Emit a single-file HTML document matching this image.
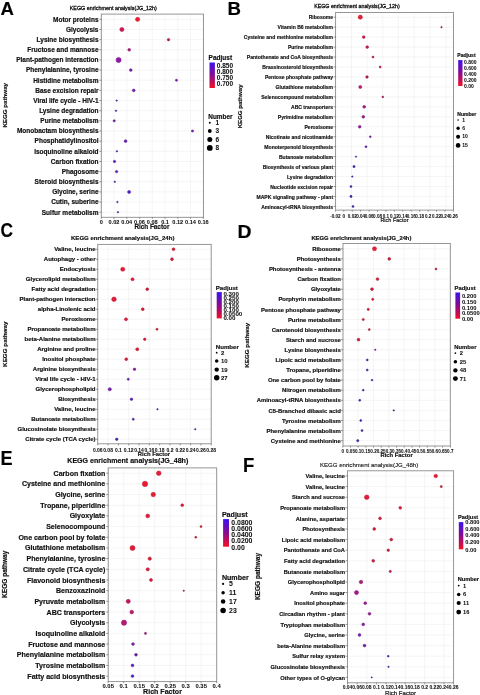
<!DOCTYPE html>
<html><head><meta charset="utf-8"><title>KEGG enrichment</title>
<style>html,body{margin:0;padding:0;background:#fff;width:480px;height:695px;overflow:hidden}
svg{display:block;will-change:transform;filter:blur(0.35px);font-family:"Liberation Sans",sans-serif} text{stroke:#111;stroke-width:0.18px} .ns text{stroke:none}</style></head>
<body><svg width="480" height="695" viewBox="0 0 480 695" font-family="Liberation Sans, sans-serif">
<rect width="480" height="695" fill="#fff"/>
<rect x="101.3" y="14.1" width="102.2" height="203.20000000000002" fill="#fff"/>
<line x1="101.3" y1="19.35" x2="203.5" y2="19.35" stroke="#eeeeee" stroke-width="0.6"/>
<line x1="101.3" y1="29.50" x2="203.5" y2="29.50" stroke="#eeeeee" stroke-width="0.6"/>
<line x1="101.3" y1="39.65" x2="203.5" y2="39.65" stroke="#eeeeee" stroke-width="0.6"/>
<line x1="101.3" y1="49.80" x2="203.5" y2="49.80" stroke="#eeeeee" stroke-width="0.6"/>
<line x1="101.3" y1="59.95" x2="203.5" y2="59.95" stroke="#eeeeee" stroke-width="0.6"/>
<line x1="101.3" y1="70.10" x2="203.5" y2="70.10" stroke="#eeeeee" stroke-width="0.6"/>
<line x1="101.3" y1="80.25" x2="203.5" y2="80.25" stroke="#eeeeee" stroke-width="0.6"/>
<line x1="101.3" y1="90.40" x2="203.5" y2="90.40" stroke="#eeeeee" stroke-width="0.6"/>
<line x1="101.3" y1="100.55" x2="203.5" y2="100.55" stroke="#eeeeee" stroke-width="0.6"/>
<line x1="101.3" y1="110.70" x2="203.5" y2="110.70" stroke="#eeeeee" stroke-width="0.6"/>
<line x1="101.3" y1="120.85" x2="203.5" y2="120.85" stroke="#eeeeee" stroke-width="0.6"/>
<line x1="101.3" y1="131.00" x2="203.5" y2="131.00" stroke="#eeeeee" stroke-width="0.6"/>
<line x1="101.3" y1="141.15" x2="203.5" y2="141.15" stroke="#eeeeee" stroke-width="0.6"/>
<line x1="101.3" y1="151.30" x2="203.5" y2="151.30" stroke="#eeeeee" stroke-width="0.6"/>
<line x1="101.3" y1="161.45" x2="203.5" y2="161.45" stroke="#eeeeee" stroke-width="0.6"/>
<line x1="101.3" y1="171.60" x2="203.5" y2="171.60" stroke="#eeeeee" stroke-width="0.6"/>
<line x1="101.3" y1="181.75" x2="203.5" y2="181.75" stroke="#eeeeee" stroke-width="0.6"/>
<line x1="101.3" y1="191.90" x2="203.5" y2="191.90" stroke="#eeeeee" stroke-width="0.6"/>
<line x1="101.3" y1="202.05" x2="203.5" y2="202.05" stroke="#eeeeee" stroke-width="0.6"/>
<line x1="101.3" y1="212.20" x2="203.5" y2="212.20" stroke="#eeeeee" stroke-width="0.6"/>
<line x1="101.30" y1="14.1" x2="101.30" y2="217.3" stroke="#eeeeee" stroke-width="0.6"/>
<line x1="114.05" y1="14.1" x2="114.05" y2="217.3" stroke="#eeeeee" stroke-width="0.6"/>
<line x1="126.80" y1="14.1" x2="126.80" y2="217.3" stroke="#eeeeee" stroke-width="0.6"/>
<line x1="139.55" y1="14.1" x2="139.55" y2="217.3" stroke="#eeeeee" stroke-width="0.6"/>
<line x1="152.30" y1="14.1" x2="152.30" y2="217.3" stroke="#eeeeee" stroke-width="0.6"/>
<line x1="165.05" y1="14.1" x2="165.05" y2="217.3" stroke="#eeeeee" stroke-width="0.6"/>
<line x1="177.80" y1="14.1" x2="177.80" y2="217.3" stroke="#eeeeee" stroke-width="0.6"/>
<line x1="190.55" y1="14.1" x2="190.55" y2="217.3" stroke="#eeeeee" stroke-width="0.6"/>
<line x1="203.30" y1="14.1" x2="203.30" y2="217.3" stroke="#eeeeee" stroke-width="0.6"/>
<rect x="101.3" y="14.1" width="102.2" height="203.20000000000002" fill="none" stroke="#8c8c8c" stroke-width="0.9"/>
<line x1="99.30" y1="19.35" x2="101.3" y2="19.35" stroke="#555" stroke-width="0.6"/>
<line x1="99.30" y1="29.50" x2="101.3" y2="29.50" stroke="#555" stroke-width="0.6"/>
<line x1="99.30" y1="39.65" x2="101.3" y2="39.65" stroke="#555" stroke-width="0.6"/>
<line x1="99.30" y1="49.80" x2="101.3" y2="49.80" stroke="#555" stroke-width="0.6"/>
<line x1="99.30" y1="59.95" x2="101.3" y2="59.95" stroke="#555" stroke-width="0.6"/>
<line x1="99.30" y1="70.10" x2="101.3" y2="70.10" stroke="#555" stroke-width="0.6"/>
<line x1="99.30" y1="80.25" x2="101.3" y2="80.25" stroke="#555" stroke-width="0.6"/>
<line x1="99.30" y1="90.40" x2="101.3" y2="90.40" stroke="#555" stroke-width="0.6"/>
<line x1="99.30" y1="100.55" x2="101.3" y2="100.55" stroke="#555" stroke-width="0.6"/>
<line x1="99.30" y1="110.70" x2="101.3" y2="110.70" stroke="#555" stroke-width="0.6"/>
<line x1="99.30" y1="120.85" x2="101.3" y2="120.85" stroke="#555" stroke-width="0.6"/>
<line x1="99.30" y1="131.00" x2="101.3" y2="131.00" stroke="#555" stroke-width="0.6"/>
<line x1="99.30" y1="141.15" x2="101.3" y2="141.15" stroke="#555" stroke-width="0.6"/>
<line x1="99.30" y1="151.30" x2="101.3" y2="151.30" stroke="#555" stroke-width="0.6"/>
<line x1="99.30" y1="161.45" x2="101.3" y2="161.45" stroke="#555" stroke-width="0.6"/>
<line x1="99.30" y1="171.60" x2="101.3" y2="171.60" stroke="#555" stroke-width="0.6"/>
<line x1="99.30" y1="181.75" x2="101.3" y2="181.75" stroke="#555" stroke-width="0.6"/>
<line x1="99.30" y1="191.90" x2="101.3" y2="191.90" stroke="#555" stroke-width="0.6"/>
<line x1="99.30" y1="202.05" x2="101.3" y2="202.05" stroke="#555" stroke-width="0.6"/>
<line x1="99.30" y1="212.20" x2="101.3" y2="212.20" stroke="#555" stroke-width="0.6"/>
<line x1="101.30" y1="217.3" x2="101.30" y2="218.9" stroke="#555" stroke-width="0.6"/>
<line x1="114.05" y1="217.3" x2="114.05" y2="218.9" stroke="#555" stroke-width="0.6"/>
<line x1="126.80" y1="217.3" x2="126.80" y2="218.9" stroke="#555" stroke-width="0.6"/>
<line x1="139.55" y1="217.3" x2="139.55" y2="218.9" stroke="#555" stroke-width="0.6"/>
<line x1="152.30" y1="217.3" x2="152.30" y2="218.9" stroke="#555" stroke-width="0.6"/>
<line x1="165.05" y1="217.3" x2="165.05" y2="218.9" stroke="#555" stroke-width="0.6"/>
<line x1="177.80" y1="217.3" x2="177.80" y2="218.9" stroke="#555" stroke-width="0.6"/>
<line x1="190.55" y1="217.3" x2="190.55" y2="218.9" stroke="#555" stroke-width="0.6"/>
<line x1="203.30" y1="217.3" x2="203.30" y2="218.9" stroke="#555" stroke-width="0.6"/>
<text x="98.50" y="21.68" font-size="6.5" font-weight="bold" text-anchor="end" fill="#111">Motor proteins</text>
<text x="98.50" y="31.83" font-size="6.5" font-weight="bold" text-anchor="end" fill="#111">Glycolysis</text>
<text x="98.50" y="41.98" font-size="6.5" font-weight="bold" text-anchor="end" fill="#111">Lysine biosynthesis</text>
<text x="98.50" y="52.13" font-size="6.5" font-weight="bold" text-anchor="end" fill="#111">Fructose and mannose</text>
<text x="98.50" y="62.28" font-size="6.5" font-weight="bold" text-anchor="end" fill="#111">Plant-pathogen interaction</text>
<text x="98.50" y="72.43" font-size="6.5" font-weight="bold" text-anchor="end" fill="#111">Phenylalanine, tyrosine</text>
<text x="98.50" y="82.58" font-size="6.5" font-weight="bold" text-anchor="end" fill="#111">Histidine metabolism</text>
<text x="98.50" y="92.73" font-size="6.5" font-weight="bold" text-anchor="end" fill="#111">Base excision repair</text>
<text x="98.50" y="102.88" font-size="6.5" font-weight="bold" text-anchor="end" fill="#111">Viral life cycle - HIV-1</text>
<text x="98.50" y="113.03" font-size="6.5" font-weight="bold" text-anchor="end" fill="#111">Lysine degradation</text>
<text x="98.50" y="123.18" font-size="6.5" font-weight="bold" text-anchor="end" fill="#111">Purine metabolism</text>
<text x="98.50" y="133.33" font-size="6.5" font-weight="bold" text-anchor="end" fill="#111">Monobactam biosynthesis</text>
<text x="98.50" y="143.48" font-size="6.5" font-weight="bold" text-anchor="end" fill="#111">Phosphatidylinositol</text>
<text x="98.50" y="153.63" font-size="6.5" font-weight="bold" text-anchor="end" fill="#111">Isoquinoline alkaloid</text>
<text x="98.50" y="163.78" font-size="6.5" font-weight="bold" text-anchor="end" fill="#111">Carbon fixation</text>
<text x="98.50" y="173.93" font-size="6.5" font-weight="bold" text-anchor="end" fill="#111">Phagosome</text>
<text x="98.50" y="184.08" font-size="6.5" font-weight="bold" text-anchor="end" fill="#111">Steroid biosynthesis</text>
<text x="98.50" y="194.23" font-size="6.5" font-weight="bold" text-anchor="end" fill="#111">Glycine, serine</text>
<text x="98.50" y="204.38" font-size="6.5" font-weight="bold" text-anchor="end" fill="#111">Cutin, suberine</text>
<text x="98.50" y="214.53" font-size="6.5" font-weight="bold" text-anchor="end" fill="#111">Sulfur metabolism</text>
<circle cx="137.60" cy="19.35" r="2.10" fill="#e81e32" stroke="#c5192a" stroke-width="0.5"/>
<circle cx="121.90" cy="29.50" r="2.10" fill="#cc1854" stroke="#ad1447" stroke-width="0.5"/>
<circle cx="168.50" cy="39.65" r="1.23" fill="#c01965" stroke="#770f3e" stroke-width="0.5"/>
<circle cx="129.20" cy="49.80" r="1.38" fill="#ae1a7d" stroke="#82135d" stroke-width="0.5"/>
<circle cx="118.60" cy="59.95" r="2.55" fill="#8e1ca6" stroke="#78178d" stroke-width="0.5"/>
<circle cx="130.80" cy="70.10" r="1.38" fill="#841dad" stroke="#631581" stroke-width="0.5"/>
<circle cx="176.50" cy="80.25" r="1.12" fill="#7b1eb4" stroke="#4c126f" stroke-width="0.5"/>
<circle cx="133.75" cy="90.40" r="1.38" fill="#761fb7" stroke="#581789" stroke-width="0.5"/>
<circle cx="116.70" cy="100.55" r="0.72" fill="#5422c4" stroke="#341579" stroke-width="0.5"/>
<circle cx="116.00" cy="110.70" r="0.82" fill="#5422c4" stroke="#341579" stroke-width="0.5"/>
<circle cx="114.20" cy="120.85" r="1.12" fill="#761fb7" stroke="#491371" stroke-width="0.5"/>
<circle cx="192.50" cy="131.00" r="1.12" fill="#761fb7" stroke="#491371" stroke-width="0.5"/>
<circle cx="125.60" cy="141.15" r="1.38" fill="#6a20c0" stroke="#4f1890" stroke-width="0.5"/>
<circle cx="116.90" cy="151.30" r="0.78" fill="#5422c4" stroke="#341579" stroke-width="0.5"/>
<circle cx="114.50" cy="161.45" r="1.18" fill="#6321c5" stroke="#3d147a" stroke-width="0.5"/>
<circle cx="116.60" cy="171.60" r="1.18" fill="#6321c5" stroke="#3d147a" stroke-width="0.5"/>
<circle cx="114.75" cy="181.75" r="0.78" fill="#5422c4" stroke="#341579" stroke-width="0.5"/>
<circle cx="129.10" cy="191.90" r="1.52" fill="#5422c4" stroke="#3f1993" stroke-width="0.5"/>
<circle cx="117.40" cy="202.05" r="0.78" fill="#5422c4" stroke="#341579" stroke-width="0.5"/>
<circle cx="117.90" cy="212.20" r="0.78" fill="#5422c4" stroke="#341579" stroke-width="0.5"/>
<text x="101.30" y="223.80" font-size="5.6" font-weight="bold" text-anchor="middle" style="stroke-width:0.05px" fill="#111">0</text>
<text x="114.05" y="223.80" font-size="5.6" font-weight="bold" text-anchor="middle" style="stroke-width:0.05px" fill="#111">0.02</text>
<text x="126.80" y="223.80" font-size="5.6" font-weight="bold" text-anchor="middle" style="stroke-width:0.05px" fill="#111">0.04</text>
<text x="139.55" y="223.80" font-size="5.6" font-weight="bold" text-anchor="middle" style="stroke-width:0.05px" fill="#111">0.06</text>
<text x="152.30" y="223.80" font-size="5.6" font-weight="bold" text-anchor="middle" style="stroke-width:0.05px" fill="#111">0.08</text>
<text x="165.05" y="223.80" font-size="5.6" font-weight="bold" text-anchor="middle" style="stroke-width:0.05px" fill="#111">0.1</text>
<text x="177.80" y="223.80" font-size="5.6" font-weight="bold" text-anchor="middle" style="stroke-width:0.05px" fill="#111">0.12</text>
<text x="190.55" y="223.80" font-size="5.6" font-weight="bold" text-anchor="middle" style="stroke-width:0.05px" fill="#111">0.14</text>
<text x="203.30" y="223.80" font-size="5.6" font-weight="bold" text-anchor="middle" style="stroke-width:0.05px" fill="#111">0.16</text>
<text x="69.75" y="10.30" font-size="6.0" text-anchor="start" textLength="87.1" lengthAdjust="spacingAndGlyphs" style="stroke-width:0.32px" fill="#111">KEGG enrichment analysis(JG_12h)</text>
<text x="134.40" y="229.20" font-size="6.3" font-weight="bold" text-anchor="start" textLength="35" lengthAdjust="spacingAndGlyphs" fill="#111">Rich Factor</text>
<text transform="translate(6.90,105.30) rotate(-90)" font-size="6.2" font-weight="bold" text-anchor="middle" textLength="44.6" lengthAdjust="spacingAndGlyphs" fill="#111">KEGG pathway</text>
<text x="208.60" y="60.13" font-size="6.5" font-weight="bold" text-anchor="start" fill="#111">Padjust</text>
<defs><linearGradient id="gA" x1="0" y1="0" x2="0" y2="1"><stop offset="0" stop-color="#3c12ee"/><stop offset="0.5" stop-color="#8a0a90"/><stop offset="1" stop-color="#f50f22"/></linearGradient></defs>
<rect x="209.5" y="62.5" width="5.40" height="25.50" fill="url(#gA)"/>
<text x="216.80" y="68.33" font-size="6.5" font-weight="bold" text-anchor="start" style="stroke-width:0.05px" fill="#111">0.850</text>
<text x="216.80" y="73.93" font-size="6.5" font-weight="bold" text-anchor="start" style="stroke-width:0.05px" fill="#111">0.800</text>
<text x="216.80" y="79.93" font-size="6.5" font-weight="bold" text-anchor="start" style="stroke-width:0.05px" fill="#111">0.750</text>
<text x="216.80" y="85.63" font-size="6.5" font-weight="bold" text-anchor="start" style="stroke-width:0.05px" fill="#111">0.700</text>
<text x="208.30" y="118.99" font-size="6.4" font-weight="bold" text-anchor="start" fill="#111">Number</text>
<circle cx="209.8" cy="122.75" r="0.97" fill="#000"/>
<text x="215.40" y="125.08" font-size="6.5" font-weight="bold" text-anchor="start" style="stroke-width:0.05px" fill="#111">1</text>
<circle cx="209.8" cy="131" r="1.92" fill="#000"/>
<text x="215.40" y="133.33" font-size="6.5" font-weight="bold" text-anchor="start" style="stroke-width:0.05px" fill="#111">3</text>
<circle cx="209.8" cy="139.6" r="2.50" fill="#000"/>
<text x="215.40" y="141.93" font-size="6.5" font-weight="bold" text-anchor="start" style="stroke-width:0.05px" fill="#111">6</text>
<circle cx="209.8" cy="147.9" r="2.90" fill="#000"/>
<text x="215.40" y="150.23" font-size="6.5" font-weight="bold" text-anchor="start" style="stroke-width:0.05px" fill="#111">8</text>
<rect x="335.6" y="12.5" width="117.89999999999998" height="197.6" fill="#fff"/>
<line x1="335.6" y1="17.20" x2="453.5" y2="17.20" stroke="#eeeeee" stroke-width="0.6"/>
<line x1="335.6" y1="27.16" x2="453.5" y2="27.16" stroke="#eeeeee" stroke-width="0.6"/>
<line x1="335.6" y1="37.12" x2="453.5" y2="37.12" stroke="#eeeeee" stroke-width="0.6"/>
<line x1="335.6" y1="47.08" x2="453.5" y2="47.08" stroke="#eeeeee" stroke-width="0.6"/>
<line x1="335.6" y1="57.04" x2="453.5" y2="57.04" stroke="#eeeeee" stroke-width="0.6"/>
<line x1="335.6" y1="67.00" x2="453.5" y2="67.00" stroke="#eeeeee" stroke-width="0.6"/>
<line x1="335.6" y1="76.96" x2="453.5" y2="76.96" stroke="#eeeeee" stroke-width="0.6"/>
<line x1="335.6" y1="86.92" x2="453.5" y2="86.92" stroke="#eeeeee" stroke-width="0.6"/>
<line x1="335.6" y1="96.88" x2="453.5" y2="96.88" stroke="#eeeeee" stroke-width="0.6"/>
<line x1="335.6" y1="106.84" x2="453.5" y2="106.84" stroke="#eeeeee" stroke-width="0.6"/>
<line x1="335.6" y1="116.80" x2="453.5" y2="116.80" stroke="#eeeeee" stroke-width="0.6"/>
<line x1="335.6" y1="126.76" x2="453.5" y2="126.76" stroke="#eeeeee" stroke-width="0.6"/>
<line x1="335.6" y1="136.72" x2="453.5" y2="136.72" stroke="#eeeeee" stroke-width="0.6"/>
<line x1="335.6" y1="146.68" x2="453.5" y2="146.68" stroke="#eeeeee" stroke-width="0.6"/>
<line x1="335.6" y1="156.64" x2="453.5" y2="156.64" stroke="#eeeeee" stroke-width="0.6"/>
<line x1="335.6" y1="166.60" x2="453.5" y2="166.60" stroke="#eeeeee" stroke-width="0.6"/>
<line x1="335.6" y1="176.56" x2="453.5" y2="176.56" stroke="#eeeeee" stroke-width="0.6"/>
<line x1="335.6" y1="186.52" x2="453.5" y2="186.52" stroke="#eeeeee" stroke-width="0.6"/>
<line x1="335.6" y1="196.48" x2="453.5" y2="196.48" stroke="#eeeeee" stroke-width="0.6"/>
<line x1="335.6" y1="206.44" x2="453.5" y2="206.44" stroke="#eeeeee" stroke-width="0.6"/>
<line x1="351.50" y1="12.5" x2="351.50" y2="210.1" stroke="#eeeeee" stroke-width="0.6"/>
<line x1="367.00" y1="12.5" x2="367.00" y2="210.1" stroke="#eeeeee" stroke-width="0.6"/>
<line x1="382.70" y1="12.5" x2="382.70" y2="210.1" stroke="#eeeeee" stroke-width="0.6"/>
<line x1="398.30" y1="12.5" x2="398.30" y2="210.1" stroke="#eeeeee" stroke-width="0.6"/>
<line x1="414.20" y1="12.5" x2="414.20" y2="210.1" stroke="#eeeeee" stroke-width="0.6"/>
<line x1="430.00" y1="12.5" x2="430.00" y2="210.1" stroke="#eeeeee" stroke-width="0.6"/>
<line x1="446.00" y1="12.5" x2="446.00" y2="210.1" stroke="#eeeeee" stroke-width="0.6"/>
<rect x="335.6" y="12.5" width="117.89999999999998" height="197.6" fill="none" stroke="#8c8c8c" stroke-width="0.9"/>
<line x1="333.60" y1="17.20" x2="335.6" y2="17.20" stroke="#555" stroke-width="0.6"/>
<line x1="333.60" y1="27.16" x2="335.6" y2="27.16" stroke="#555" stroke-width="0.6"/>
<line x1="333.60" y1="37.12" x2="335.6" y2="37.12" stroke="#555" stroke-width="0.6"/>
<line x1="333.60" y1="47.08" x2="335.6" y2="47.08" stroke="#555" stroke-width="0.6"/>
<line x1="333.60" y1="57.04" x2="335.6" y2="57.04" stroke="#555" stroke-width="0.6"/>
<line x1="333.60" y1="67.00" x2="335.6" y2="67.00" stroke="#555" stroke-width="0.6"/>
<line x1="333.60" y1="76.96" x2="335.6" y2="76.96" stroke="#555" stroke-width="0.6"/>
<line x1="333.60" y1="86.92" x2="335.6" y2="86.92" stroke="#555" stroke-width="0.6"/>
<line x1="333.60" y1="96.88" x2="335.6" y2="96.88" stroke="#555" stroke-width="0.6"/>
<line x1="333.60" y1="106.84" x2="335.6" y2="106.84" stroke="#555" stroke-width="0.6"/>
<line x1="333.60" y1="116.80" x2="335.6" y2="116.80" stroke="#555" stroke-width="0.6"/>
<line x1="333.60" y1="126.76" x2="335.6" y2="126.76" stroke="#555" stroke-width="0.6"/>
<line x1="333.60" y1="136.72" x2="335.6" y2="136.72" stroke="#555" stroke-width="0.6"/>
<line x1="333.60" y1="146.68" x2="335.6" y2="146.68" stroke="#555" stroke-width="0.6"/>
<line x1="333.60" y1="156.64" x2="335.6" y2="156.64" stroke="#555" stroke-width="0.6"/>
<line x1="333.60" y1="166.60" x2="335.6" y2="166.60" stroke="#555" stroke-width="0.6"/>
<line x1="333.60" y1="176.56" x2="335.6" y2="176.56" stroke="#555" stroke-width="0.6"/>
<line x1="333.60" y1="186.52" x2="335.6" y2="186.52" stroke="#555" stroke-width="0.6"/>
<line x1="333.60" y1="196.48" x2="335.6" y2="196.48" stroke="#555" stroke-width="0.6"/>
<line x1="333.60" y1="206.44" x2="335.6" y2="206.44" stroke="#555" stroke-width="0.6"/>
<line x1="335.40" y1="210.1" x2="335.40" y2="211.7" stroke="#555" stroke-width="0.6"/>
<line x1="343.83" y1="210.1" x2="343.83" y2="211.7" stroke="#555" stroke-width="0.6"/>
<line x1="352.26" y1="210.1" x2="352.26" y2="211.7" stroke="#555" stroke-width="0.6"/>
<line x1="360.69" y1="210.1" x2="360.69" y2="211.7" stroke="#555" stroke-width="0.6"/>
<line x1="369.11" y1="210.1" x2="369.11" y2="211.7" stroke="#555" stroke-width="0.6"/>
<line x1="377.54" y1="210.1" x2="377.54" y2="211.7" stroke="#555" stroke-width="0.6"/>
<line x1="385.97" y1="210.1" x2="385.97" y2="211.7" stroke="#555" stroke-width="0.6"/>
<line x1="394.40" y1="210.1" x2="394.40" y2="211.7" stroke="#555" stroke-width="0.6"/>
<line x1="402.83" y1="210.1" x2="402.83" y2="211.7" stroke="#555" stroke-width="0.6"/>
<line x1="411.26" y1="210.1" x2="411.26" y2="211.7" stroke="#555" stroke-width="0.6"/>
<line x1="419.69" y1="210.1" x2="419.69" y2="211.7" stroke="#555" stroke-width="0.6"/>
<line x1="428.11" y1="210.1" x2="428.11" y2="211.7" stroke="#555" stroke-width="0.6"/>
<line x1="436.54" y1="210.1" x2="436.54" y2="211.7" stroke="#555" stroke-width="0.6"/>
<line x1="444.97" y1="210.1" x2="444.97" y2="211.7" stroke="#555" stroke-width="0.6"/>
<line x1="453.40" y1="210.1" x2="453.40" y2="211.7" stroke="#555" stroke-width="0.6"/>
<g transform="translate(333.10,19.26) scale(0.88,1)"><text x="0" y="0" font-size="5.75" font-weight="bold" text-anchor="end" fill="#111">Ribosome</text></g>
<g transform="translate(333.10,29.22) scale(0.88,1)"><text x="0" y="0" font-size="5.75" font-weight="bold" text-anchor="end" fill="#111">Vitamin B6 metabolism</text></g>
<g transform="translate(333.10,39.18) scale(0.88,1)"><text x="0" y="0" font-size="5.75" font-weight="bold" text-anchor="end" fill="#111">Cysteine and methionine metabolism</text></g>
<g transform="translate(333.10,49.14) scale(0.88,1)"><text x="0" y="0" font-size="5.75" font-weight="bold" text-anchor="end" fill="#111">Purine metabolism</text></g>
<g transform="translate(333.10,59.10) scale(0.88,1)"><text x="0" y="0" font-size="5.75" font-weight="bold" text-anchor="end" fill="#111">Pantothenate and CoA biosynthesis</text></g>
<g transform="translate(333.10,69.06) scale(0.88,1)"><text x="0" y="0" font-size="5.75" font-weight="bold" text-anchor="end" fill="#111">Brassinosteroid biosynthesis</text></g>
<g transform="translate(333.10,79.02) scale(0.88,1)"><text x="0" y="0" font-size="5.75" font-weight="bold" text-anchor="end" fill="#111">Pentose phosphate pathway</text></g>
<g transform="translate(333.10,88.98) scale(0.88,1)"><text x="0" y="0" font-size="5.75" font-weight="bold" text-anchor="end" fill="#111">Glutathione metabolism</text></g>
<g transform="translate(333.10,98.94) scale(0.88,1)"><text x="0" y="0" font-size="5.75" font-weight="bold" text-anchor="end" fill="#111">Selenocompound metabolism</text></g>
<g transform="translate(333.10,108.90) scale(0.88,1)"><text x="0" y="0" font-size="5.75" font-weight="bold" text-anchor="end" fill="#111">ABC transporters</text></g>
<g transform="translate(333.10,118.86) scale(0.88,1)"><text x="0" y="0" font-size="5.75" font-weight="bold" text-anchor="end" fill="#111">Pyrimidine metabolism</text></g>
<g transform="translate(333.10,128.82) scale(0.88,1)"><text x="0" y="0" font-size="5.75" font-weight="bold" text-anchor="end" fill="#111">Peroxisome</text></g>
<g transform="translate(333.10,138.78) scale(0.88,1)"><text x="0" y="0" font-size="5.75" font-weight="bold" text-anchor="end" fill="#111">Nicotinate and nicotinamide</text></g>
<g transform="translate(333.10,148.74) scale(0.88,1)"><text x="0" y="0" font-size="5.75" font-weight="bold" text-anchor="end" fill="#111">Monoterpenoid biosynthesis</text></g>
<g transform="translate(333.10,158.70) scale(0.88,1)"><text x="0" y="0" font-size="5.75" font-weight="bold" text-anchor="end" fill="#111">Butanoate metabolism</text></g>
<g transform="translate(333.10,168.66) scale(0.88,1)"><text x="0" y="0" font-size="5.75" font-weight="bold" text-anchor="end" fill="#111">Biosynthesis of various plant</text></g>
<g transform="translate(333.10,178.62) scale(0.88,1)"><text x="0" y="0" font-size="5.75" font-weight="bold" text-anchor="end" fill="#111">Lysine degradation</text></g>
<g transform="translate(333.10,188.58) scale(0.88,1)"><text x="0" y="0" font-size="5.75" font-weight="bold" text-anchor="end" fill="#111">Nucleotide excision repair</text></g>
<g transform="translate(333.10,198.54) scale(0.88,1)"><text x="0" y="0" font-size="5.75" font-weight="bold" text-anchor="end" fill="#111">MAPK signaling pathway - plant</text></g>
<g transform="translate(333.10,208.50) scale(0.88,1)"><text x="0" y="0" font-size="5.75" font-weight="bold" text-anchor="end" fill="#111">Aminoacyl-tRNA biosynthesis</text></g>
<circle cx="360.30" cy="17.20" r="2.10" fill="#e81e32" stroke="#c5192a" stroke-width="0.5"/>
<circle cx="441.50" cy="27.16" r="0.78" fill="#de1b3d" stroke="#891025" stroke-width="0.5"/>
<circle cx="363.70" cy="37.12" r="1.38" fill="#d41848" stroke="#9f1236" stroke-width="0.5"/>
<circle cx="367.20" cy="47.08" r="1.38" fill="#cc1854" stroke="#99123f" stroke-width="0.5"/>
<circle cx="373.00" cy="57.04" r="0.98" fill="#cc1854" stroke="#7e0e34" stroke-width="0.5"/>
<circle cx="380.20" cy="67.00" r="0.98" fill="#cc1854" stroke="#7e0e34" stroke-width="0.5"/>
<circle cx="367.00" cy="76.96" r="1.28" fill="#c31960" stroke="#780f3b" stroke-width="0.5"/>
<circle cx="360.30" cy="86.92" r="1.52" fill="#bb1a6c" stroke="#8c1351" stroke-width="0.5"/>
<circle cx="382.80" cy="96.88" r="0.88" fill="#bb1a6c" stroke="#731042" stroke-width="0.5"/>
<circle cx="364.20" cy="106.84" r="1.38" fill="#a91a84" stroke="#681051" stroke-width="0.5"/>
<circle cx="363.30" cy="116.80" r="1.38" fill="#a01b8f" stroke="#631058" stroke-width="0.5"/>
<circle cx="359.70" cy="126.76" r="1.38" fill="#971c9b" stroke="#711574" stroke-width="0.5"/>
<circle cx="370.30" cy="136.72" r="0.88" fill="#821eae" stroke="#50126b" stroke-width="0.5"/>
<circle cx="366.00" cy="146.68" r="0.98" fill="#6a20c0" stroke="#411377" stroke-width="0.5"/>
<circle cx="356.00" cy="156.64" r="0.72" fill="#5422c4" stroke="#341579" stroke-width="0.5"/>
<circle cx="354.00" cy="166.60" r="1.12" fill="#4b23c0" stroke="#2e1577" stroke-width="0.5"/>
<circle cx="352.30" cy="176.56" r="0.72" fill="#4b23c0" stroke="#2e1577" stroke-width="0.5"/>
<circle cx="351.00" cy="186.52" r="0.98" fill="#4224bc" stroke="#281674" stroke-width="0.5"/>
<circle cx="351.00" cy="196.48" r="1.12" fill="#4224bc" stroke="#281674" stroke-width="0.5"/>
<circle cx="353.00" cy="206.44" r="0.98" fill="#4224bc" stroke="#281674" stroke-width="0.5"/>
<g transform="translate(335.40,217.60) scale(0.87,1)"><text x="0" y="0" font-size="5.3" text-anchor="middle" font-weight="bold" fill="#111" style="stroke-width:0.05px">-0.02</text></g>
<g transform="translate(343.83,217.60) scale(0.87,1)"><text x="0" y="0" font-size="5.3" text-anchor="middle" font-weight="bold" fill="#111" style="stroke-width:0.05px">0</text></g>
<g transform="translate(352.26,217.60) scale(0.87,1)"><text x="0" y="0" font-size="5.3" text-anchor="middle" font-weight="bold" fill="#111" style="stroke-width:0.05px">0.02</text></g>
<g transform="translate(360.69,217.60) scale(0.87,1)"><text x="0" y="0" font-size="5.3" text-anchor="middle" font-weight="bold" fill="#111" style="stroke-width:0.05px">0.04</text></g>
<g transform="translate(369.11,217.60) scale(0.87,1)"><text x="0" y="0" font-size="5.3" text-anchor="middle" font-weight="bold" fill="#111" style="stroke-width:0.05px">0.06</text></g>
<g transform="translate(377.54,217.60) scale(0.87,1)"><text x="0" y="0" font-size="5.3" text-anchor="middle" font-weight="bold" fill="#111" style="stroke-width:0.05px">0.08</text></g>
<g transform="translate(385.97,217.60) scale(0.87,1)"><text x="0" y="0" font-size="5.3" text-anchor="middle" font-weight="bold" fill="#111" style="stroke-width:0.05px">0.1</text></g>
<g transform="translate(394.40,217.60) scale(0.87,1)"><text x="0" y="0" font-size="5.3" text-anchor="middle" font-weight="bold" fill="#111" style="stroke-width:0.05px">0.12</text></g>
<g transform="translate(402.83,217.60) scale(0.87,1)"><text x="0" y="0" font-size="5.3" text-anchor="middle" font-weight="bold" fill="#111" style="stroke-width:0.05px">0.14</text></g>
<g transform="translate(411.26,217.60) scale(0.87,1)"><text x="0" y="0" font-size="5.3" text-anchor="middle" font-weight="bold" fill="#111" style="stroke-width:0.05px">0.16</text></g>
<g transform="translate(419.69,217.60) scale(0.87,1)"><text x="0" y="0" font-size="5.3" text-anchor="middle" font-weight="bold" fill="#111" style="stroke-width:0.05px">0.18</text></g>
<g transform="translate(428.11,217.60) scale(0.87,1)"><text x="0" y="0" font-size="5.3" text-anchor="middle" font-weight="bold" fill="#111" style="stroke-width:0.05px">0.2</text></g>
<g transform="translate(436.54,217.60) scale(0.87,1)"><text x="0" y="0" font-size="5.3" text-anchor="middle" font-weight="bold" fill="#111" style="stroke-width:0.05px">0.22</text></g>
<g transform="translate(444.97,217.60) scale(0.87,1)"><text x="0" y="0" font-size="5.3" text-anchor="middle" font-weight="bold" fill="#111" style="stroke-width:0.05px">0.24</text></g>
<g transform="translate(453.40,217.60) scale(0.87,1)"><text x="0" y="0" font-size="5.3" text-anchor="middle" font-weight="bold" fill="#111" style="stroke-width:0.05px">0.26</text></g>
<text x="314.20" y="8.30" font-size="5.9" text-anchor="start" textLength="85.5" lengthAdjust="spacingAndGlyphs" style="stroke-width:0.32px" fill="#111">KEGG enrichment analysis(JG_12h)</text>
<text x="380.40" y="221.90" font-size="5.5" text-anchor="start" textLength="28.1" lengthAdjust="spacingAndGlyphs" fill="#111">Rich Factor</text>
<text transform="translate(242.20,106.40) rotate(-90)" font-size="6.2" font-weight="bold" text-anchor="middle" textLength="43.8" lengthAdjust="spacingAndGlyphs" fill="#111">KEGG pathway</text>
<text x="457.30" y="57.42" font-size="5.07" font-weight="bold" text-anchor="start" fill="#111">Padjust</text>
<defs><linearGradient id="gB" x1="0" y1="0" x2="0" y2="1"><stop offset="0" stop-color="#3c12ee"/><stop offset="0.5" stop-color="#8a0a90"/><stop offset="1" stop-color="#f50f22"/></linearGradient></defs>
<rect x="458.2" y="60.1" width="4.30" height="25.90" fill="url(#gB)"/>
<text x="464.00" y="64.29" font-size="5.0" font-weight="bold" text-anchor="start" style="stroke-width:0.05px" fill="#111">0.800</text>
<text x="464.00" y="70.49" font-size="5.0" font-weight="bold" text-anchor="start" style="stroke-width:0.05px" fill="#111">0.600</text>
<text x="464.00" y="76.39" font-size="5.0" font-weight="bold" text-anchor="start" style="stroke-width:0.05px" fill="#111">0.400</text>
<text x="464.00" y="82.09" font-size="5.0" font-weight="bold" text-anchor="start" style="stroke-width:0.05px" fill="#111">0.200</text>
<text x="464.00" y="87.59" font-size="5.0" font-weight="bold" text-anchor="start" style="stroke-width:0.05px" fill="#111">0.00</text>
<text x="457.30" y="116.30" font-size="5.03" font-weight="bold" text-anchor="start" fill="#111">Number</text>
<circle cx="458.1" cy="120" r="0.78" fill="#000"/>
<text x="462.30" y="121.79" font-size="5.0" font-weight="bold" text-anchor="start" style="stroke-width:0.05px" fill="#111">1</text>
<circle cx="458.1" cy="128.3" r="1.68" fill="#000"/>
<text x="462.30" y="130.09" font-size="5.0" font-weight="bold" text-anchor="start" style="stroke-width:0.05px" fill="#111">6</text>
<circle cx="458.1" cy="136.7" r="2.02" fill="#000"/>
<text x="462.30" y="138.49" font-size="5.0" font-weight="bold" text-anchor="start" style="stroke-width:0.05px" fill="#111">10</text>
<circle cx="458.1" cy="145.4" r="2.30" fill="#000"/>
<text x="462.30" y="147.19" font-size="5.0" font-weight="bold" text-anchor="start" style="stroke-width:0.05px" fill="#111">15</text>
<rect x="97.75" y="244.4" width="113.44999999999999" height="199.4" fill="#fff"/>
<line x1="97.75" y1="249.25" x2="211.2" y2="249.25" stroke="#eeeeee" stroke-width="0.6"/>
<line x1="97.75" y1="259.25" x2="211.2" y2="259.25" stroke="#eeeeee" stroke-width="0.6"/>
<line x1="97.75" y1="269.25" x2="211.2" y2="269.25" stroke="#eeeeee" stroke-width="0.6"/>
<line x1="97.75" y1="279.25" x2="211.2" y2="279.25" stroke="#eeeeee" stroke-width="0.6"/>
<line x1="97.75" y1="289.25" x2="211.2" y2="289.25" stroke="#eeeeee" stroke-width="0.6"/>
<line x1="97.75" y1="299.25" x2="211.2" y2="299.25" stroke="#eeeeee" stroke-width="0.6"/>
<line x1="97.75" y1="309.25" x2="211.2" y2="309.25" stroke="#eeeeee" stroke-width="0.6"/>
<line x1="97.75" y1="319.25" x2="211.2" y2="319.25" stroke="#eeeeee" stroke-width="0.6"/>
<line x1="97.75" y1="329.25" x2="211.2" y2="329.25" stroke="#eeeeee" stroke-width="0.6"/>
<line x1="97.75" y1="339.25" x2="211.2" y2="339.25" stroke="#eeeeee" stroke-width="0.6"/>
<line x1="97.75" y1="349.25" x2="211.2" y2="349.25" stroke="#eeeeee" stroke-width="0.6"/>
<line x1="97.75" y1="359.25" x2="211.2" y2="359.25" stroke="#eeeeee" stroke-width="0.6"/>
<line x1="97.75" y1="369.25" x2="211.2" y2="369.25" stroke="#eeeeee" stroke-width="0.6"/>
<line x1="97.75" y1="379.25" x2="211.2" y2="379.25" stroke="#eeeeee" stroke-width="0.6"/>
<line x1="97.75" y1="389.25" x2="211.2" y2="389.25" stroke="#eeeeee" stroke-width="0.6"/>
<line x1="97.75" y1="399.25" x2="211.2" y2="399.25" stroke="#eeeeee" stroke-width="0.6"/>
<line x1="97.75" y1="409.25" x2="211.2" y2="409.25" stroke="#eeeeee" stroke-width="0.6"/>
<line x1="97.75" y1="419.25" x2="211.2" y2="419.25" stroke="#eeeeee" stroke-width="0.6"/>
<line x1="97.75" y1="429.25" x2="211.2" y2="429.25" stroke="#eeeeee" stroke-width="0.6"/>
<line x1="97.75" y1="439.25" x2="211.2" y2="439.25" stroke="#eeeeee" stroke-width="0.6"/>
<line x1="108.06" y1="244.4" x2="108.06" y2="443.8" stroke="#eeeeee" stroke-width="0.6"/>
<line x1="128.69" y1="244.4" x2="128.69" y2="443.8" stroke="#eeeeee" stroke-width="0.6"/>
<line x1="149.32" y1="244.4" x2="149.32" y2="443.8" stroke="#eeeeee" stroke-width="0.6"/>
<line x1="169.95" y1="244.4" x2="169.95" y2="443.8" stroke="#eeeeee" stroke-width="0.6"/>
<line x1="190.57" y1="244.4" x2="190.57" y2="443.8" stroke="#eeeeee" stroke-width="0.6"/>
<line x1="211.20" y1="244.4" x2="211.20" y2="443.8" stroke="#eeeeee" stroke-width="0.6"/>
<rect x="97.75" y="244.4" width="113.44999999999999" height="199.4" fill="none" stroke="#8c8c8c" stroke-width="0.9"/>
<line x1="95.75" y1="249.25" x2="97.75" y2="249.25" stroke="#555" stroke-width="0.6"/>
<line x1="95.75" y1="259.25" x2="97.75" y2="259.25" stroke="#555" stroke-width="0.6"/>
<line x1="95.75" y1="269.25" x2="97.75" y2="269.25" stroke="#555" stroke-width="0.6"/>
<line x1="95.75" y1="279.25" x2="97.75" y2="279.25" stroke="#555" stroke-width="0.6"/>
<line x1="95.75" y1="289.25" x2="97.75" y2="289.25" stroke="#555" stroke-width="0.6"/>
<line x1="95.75" y1="299.25" x2="97.75" y2="299.25" stroke="#555" stroke-width="0.6"/>
<line x1="95.75" y1="309.25" x2="97.75" y2="309.25" stroke="#555" stroke-width="0.6"/>
<line x1="95.75" y1="319.25" x2="97.75" y2="319.25" stroke="#555" stroke-width="0.6"/>
<line x1="95.75" y1="329.25" x2="97.75" y2="329.25" stroke="#555" stroke-width="0.6"/>
<line x1="95.75" y1="339.25" x2="97.75" y2="339.25" stroke="#555" stroke-width="0.6"/>
<line x1="95.75" y1="349.25" x2="97.75" y2="349.25" stroke="#555" stroke-width="0.6"/>
<line x1="95.75" y1="359.25" x2="97.75" y2="359.25" stroke="#555" stroke-width="0.6"/>
<line x1="95.75" y1="369.25" x2="97.75" y2="369.25" stroke="#555" stroke-width="0.6"/>
<line x1="95.75" y1="379.25" x2="97.75" y2="379.25" stroke="#555" stroke-width="0.6"/>
<line x1="95.75" y1="389.25" x2="97.75" y2="389.25" stroke="#555" stroke-width="0.6"/>
<line x1="95.75" y1="399.25" x2="97.75" y2="399.25" stroke="#555" stroke-width="0.6"/>
<line x1="95.75" y1="409.25" x2="97.75" y2="409.25" stroke="#555" stroke-width="0.6"/>
<line x1="95.75" y1="419.25" x2="97.75" y2="419.25" stroke="#555" stroke-width="0.6"/>
<line x1="95.75" y1="429.25" x2="97.75" y2="429.25" stroke="#555" stroke-width="0.6"/>
<line x1="95.75" y1="439.25" x2="97.75" y2="439.25" stroke="#555" stroke-width="0.6"/>
<line x1="97.75" y1="443.8" x2="97.75" y2="445.40000000000003" stroke="#555" stroke-width="0.6"/>
<line x1="108.06" y1="443.8" x2="108.06" y2="445.40000000000003" stroke="#555" stroke-width="0.6"/>
<line x1="118.38" y1="443.8" x2="118.38" y2="445.40000000000003" stroke="#555" stroke-width="0.6"/>
<line x1="128.69" y1="443.8" x2="128.69" y2="445.40000000000003" stroke="#555" stroke-width="0.6"/>
<line x1="139.00" y1="443.8" x2="139.00" y2="445.40000000000003" stroke="#555" stroke-width="0.6"/>
<line x1="149.32" y1="443.8" x2="149.32" y2="445.40000000000003" stroke="#555" stroke-width="0.6"/>
<line x1="159.63" y1="443.8" x2="159.63" y2="445.40000000000003" stroke="#555" stroke-width="0.6"/>
<line x1="169.95" y1="443.8" x2="169.95" y2="445.40000000000003" stroke="#555" stroke-width="0.6"/>
<line x1="180.26" y1="443.8" x2="180.26" y2="445.40000000000003" stroke="#555" stroke-width="0.6"/>
<line x1="190.57" y1="443.8" x2="190.57" y2="445.40000000000003" stroke="#555" stroke-width="0.6"/>
<line x1="200.89" y1="443.8" x2="200.89" y2="445.40000000000003" stroke="#555" stroke-width="0.6"/>
<line x1="211.20" y1="443.8" x2="211.20" y2="445.40000000000003" stroke="#555" stroke-width="0.6"/>
<text x="95.50" y="251.40" font-size="6.0" font-weight="bold" text-anchor="end" fill="#111">Valine, leucine</text>
<text x="95.50" y="261.40" font-size="6.0" font-weight="bold" text-anchor="end" fill="#111">Autophagy - other</text>
<text x="95.50" y="271.40" font-size="6.0" font-weight="bold" text-anchor="end" fill="#111">Endocytosis</text>
<text x="95.50" y="281.40" font-size="6.0" font-weight="bold" text-anchor="end" fill="#111">Glycerolipid metabolism</text>
<text x="95.50" y="291.40" font-size="6.0" font-weight="bold" text-anchor="end" fill="#111">Fatty acid degradation</text>
<text x="95.50" y="301.40" font-size="6.0" font-weight="bold" text-anchor="end" fill="#111">Plant-pathogen interaction</text>
<text x="95.50" y="311.40" font-size="6.0" font-weight="bold" text-anchor="end" fill="#111">alpha-Linolenic acid</text>
<text x="95.50" y="321.40" font-size="6.0" font-weight="bold" text-anchor="end" fill="#111">Peroxisome</text>
<text x="95.50" y="331.40" font-size="6.0" font-weight="bold" text-anchor="end" fill="#111">Propanoate metabolism</text>
<text x="95.50" y="341.40" font-size="6.0" font-weight="bold" text-anchor="end" fill="#111">beta-Alanine metabolism</text>
<text x="95.50" y="351.40" font-size="6.0" font-weight="bold" text-anchor="end" fill="#111">Arginine and proline</text>
<text x="95.50" y="361.40" font-size="6.0" font-weight="bold" text-anchor="end" fill="#111">Inositol phosphate</text>
<text x="95.50" y="371.40" font-size="6.0" font-weight="bold" text-anchor="end" fill="#111">Arginine biosynthesis</text>
<text x="95.50" y="381.40" font-size="6.0" font-weight="bold" text-anchor="end" fill="#111">Viral life cycle - HIV-1</text>
<text x="95.50" y="391.40" font-size="6.0" font-weight="bold" text-anchor="end" fill="#111">Glycerophospholipid</text>
<text x="95.50" y="401.40" font-size="6.0" font-weight="bold" text-anchor="end" fill="#111">Biosynthesis</text>
<text x="95.50" y="411.40" font-size="6.0" font-weight="bold" text-anchor="end" fill="#111">Valine, leucine</text>
<text x="95.50" y="421.40" font-size="6.0" font-weight="bold" text-anchor="end" fill="#111">Butanoate metabolism</text>
<text x="95.50" y="431.40" font-size="6.0" font-weight="bold" text-anchor="end" fill="#111">Glucosinolate biosynthesis</text>
<text x="95.50" y="441.40" font-size="6.0" font-weight="bold" text-anchor="end" fill="#111">Citrate cycle (TCA cycle)</text>
<circle cx="173.50" cy="249.25" r="1.38" fill="#e31c38" stroke="#aa152a" stroke-width="0.5"/>
<circle cx="172.00" cy="259.25" r="1.38" fill="#e31c38" stroke="#8c1122" stroke-width="0.5"/>
<circle cx="122.75" cy="269.25" r="2.05" fill="#e31c38" stroke="#c0172f" stroke-width="0.5"/>
<circle cx="132.50" cy="279.25" r="1.52" fill="#e31c38" stroke="#aa152a" stroke-width="0.5"/>
<circle cx="147.25" cy="289.25" r="1.38" fill="#e31c38" stroke="#8c1122" stroke-width="0.5"/>
<circle cx="114.00" cy="299.25" r="2.30" fill="#e31c38" stroke="#c0172f" stroke-width="0.5"/>
<circle cx="142.75" cy="309.25" r="1.38" fill="#e31c38" stroke="#8c1122" stroke-width="0.5"/>
<circle cx="126.00" cy="319.25" r="1.52" fill="#e31c38" stroke="#aa152a" stroke-width="0.5"/>
<circle cx="157.00" cy="329.25" r="1.08" fill="#e31c38" stroke="#8c1122" stroke-width="0.5"/>
<circle cx="144.75" cy="339.25" r="1.23" fill="#e31c38" stroke="#8c1122" stroke-width="0.5"/>
<circle cx="137.25" cy="349.25" r="1.52" fill="#e31c38" stroke="#aa152a" stroke-width="0.5"/>
<circle cx="126.25" cy="359.25" r="1.38" fill="#e11c3a" stroke="#a8152b" stroke-width="0.5"/>
<circle cx="134.50" cy="369.25" r="1.23" fill="#8e1ca6" stroke="#581166" stroke-width="0.5"/>
<circle cx="128.25" cy="379.25" r="1.08" fill="#5e22c8" stroke="#3a157c" stroke-width="0.5"/>
<circle cx="109.75" cy="389.25" r="1.62" fill="#761fb7" stroke="#581789" stroke-width="0.5"/>
<circle cx="131.50" cy="399.25" r="1.23" fill="#5e22c8" stroke="#3a157c" stroke-width="0.5"/>
<circle cx="157.50" cy="409.25" r="0.72" fill="#4b23c0" stroke="#2e1577" stroke-width="0.5"/>
<circle cx="133.25" cy="419.25" r="1.08" fill="#5e22c8" stroke="#3a157c" stroke-width="0.5"/>
<circle cx="195.25" cy="429.25" r="0.72" fill="#4b23c0" stroke="#2e1577" stroke-width="0.5"/>
<circle cx="116.75" cy="439.25" r="1.23" fill="#4b23c0" stroke="#2e1577" stroke-width="0.5"/>
<g transform="translate(97.75,451.60) scale(0.89,1)"><text x="0" y="0" font-size="5.6" text-anchor="middle" font-weight="bold" fill="#111" style="stroke-width:0.05px">0.06</text></g>
<g transform="translate(108.06,451.60) scale(0.89,1)"><text x="0" y="0" font-size="5.6" text-anchor="middle" font-weight="bold" fill="#111" style="stroke-width:0.05px">0.08</text></g>
<g transform="translate(118.38,451.60) scale(0.89,1)"><text x="0" y="0" font-size="5.6" text-anchor="middle" font-weight="bold" fill="#111" style="stroke-width:0.05px">0.1</text></g>
<g transform="translate(128.69,451.60) scale(0.89,1)"><text x="0" y="0" font-size="5.6" text-anchor="middle" font-weight="bold" fill="#111" style="stroke-width:0.05px">0.12</text></g>
<g transform="translate(139.00,451.60) scale(0.89,1)"><text x="0" y="0" font-size="5.6" text-anchor="middle" font-weight="bold" fill="#111" style="stroke-width:0.05px">0.14</text></g>
<g transform="translate(149.32,451.60) scale(0.89,1)"><text x="0" y="0" font-size="5.6" text-anchor="middle" font-weight="bold" fill="#111" style="stroke-width:0.05px">0.16</text></g>
<g transform="translate(159.63,451.60) scale(0.89,1)"><text x="0" y="0" font-size="5.6" text-anchor="middle" font-weight="bold" fill="#111" style="stroke-width:0.05px">0.18</text></g>
<g transform="translate(169.95,451.60) scale(0.89,1)"><text x="0" y="0" font-size="5.6" text-anchor="middle" font-weight="bold" fill="#111" style="stroke-width:0.05px">0.2</text></g>
<g transform="translate(180.26,451.60) scale(0.89,1)"><text x="0" y="0" font-size="5.6" text-anchor="middle" font-weight="bold" fill="#111" style="stroke-width:0.05px">0.22</text></g>
<g transform="translate(190.57,451.60) scale(0.89,1)"><text x="0" y="0" font-size="5.6" text-anchor="middle" font-weight="bold" fill="#111" style="stroke-width:0.05px">0.24</text></g>
<g transform="translate(200.89,451.60) scale(0.89,1)"><text x="0" y="0" font-size="5.6" text-anchor="middle" font-weight="bold" fill="#111" style="stroke-width:0.05px">0.26</text></g>
<g transform="translate(211.20,451.60) scale(0.89,1)"><text x="0" y="0" font-size="5.6" text-anchor="middle" font-weight="bold" fill="#111" style="stroke-width:0.05px">0.28</text></g>
<text x="71.00" y="240.25" font-size="6.0" font-weight="bold" text-anchor="start" textLength="103.4" lengthAdjust="spacingAndGlyphs" fill="#111">KEGG enrichment analysis(JG_24h)</text>
<text x="137.80" y="456.00" font-size="5.87" font-weight="bold" text-anchor="start" textLength="32.3" lengthAdjust="spacingAndGlyphs" fill="#111">Rich Factor</text>
<text transform="translate(6.60,344.25) rotate(-90)" font-size="6.2" font-weight="bold" text-anchor="middle" textLength="45.3" lengthAdjust="spacingAndGlyphs" fill="#111">KEGG pathway</text>
<text x="215.80" y="290.08" font-size="6.1" font-weight="bold" text-anchor="start" fill="#111">Padjust</text>
<defs><linearGradient id="gC" x1="0" y1="0" x2="0" y2="1"><stop offset="0" stop-color="#3c12ee"/><stop offset="0.5" stop-color="#8a0a90"/><stop offset="1" stop-color="#f50f22"/></linearGradient></defs>
<rect x="216.7" y="292.1" width="5.10" height="26.30" fill="url(#gC)"/>
<text x="223.40" y="296.00" font-size="6.2" font-weight="bold" text-anchor="start" style="stroke-width:0.05px" fill="#111">0.300</text>
<text x="223.40" y="300.00" font-size="6.2" font-weight="bold" text-anchor="start" style="stroke-width:0.05px" fill="#111">0.250</text>
<text x="223.40" y="304.00" font-size="6.2" font-weight="bold" text-anchor="start" style="stroke-width:0.05px" fill="#111">0.200</text>
<text x="223.40" y="308.00" font-size="6.2" font-weight="bold" text-anchor="start" style="stroke-width:0.05px" fill="#111">0.150</text>
<text x="223.40" y="312.00" font-size="6.2" font-weight="bold" text-anchor="start" style="stroke-width:0.05px" fill="#111">0.100</text>
<text x="223.40" y="316.00" font-size="6.2" font-weight="bold" text-anchor="start" style="stroke-width:0.05px" fill="#111">0.0500</text>
<text x="223.40" y="320.40" font-size="6.2" font-weight="bold" text-anchor="start" style="stroke-width:0.05px" fill="#111">0.00</text>
<text x="215.80" y="348.98" font-size="6.1" font-weight="bold" text-anchor="start" fill="#111">Number</text>
<circle cx="216.7" cy="352.7" r="0.88" fill="#000"/>
<text x="221.00" y="354.85" font-size="6.0" font-weight="bold" text-anchor="start" style="stroke-width:0.05px" fill="#111">2</text>
<circle cx="216.7" cy="360.9" r="1.77" fill="#000"/>
<text x="221.00" y="363.05" font-size="6.0" font-weight="bold" text-anchor="start" style="stroke-width:0.05px" fill="#111">10</text>
<circle cx="216.7" cy="369.6" r="2.20" fill="#000"/>
<text x="221.00" y="371.75" font-size="6.0" font-weight="bold" text-anchor="start" style="stroke-width:0.05px" fill="#111">19</text>
<circle cx="216.7" cy="377.8" r="2.70" fill="#000"/>
<text x="221.00" y="379.95" font-size="6.0" font-weight="bold" text-anchor="start" style="stroke-width:0.05px" fill="#111">27</text>
<rect x="343.0" y="243.5" width="107.30000000000001" height="202.5" fill="#fff"/>
<line x1="343.0" y1="248.80" x2="450.3" y2="248.80" stroke="#eeeeee" stroke-width="0.6"/>
<line x1="343.0" y1="258.90" x2="450.3" y2="258.90" stroke="#eeeeee" stroke-width="0.6"/>
<line x1="343.0" y1="269.00" x2="450.3" y2="269.00" stroke="#eeeeee" stroke-width="0.6"/>
<line x1="343.0" y1="279.10" x2="450.3" y2="279.10" stroke="#eeeeee" stroke-width="0.6"/>
<line x1="343.0" y1="289.20" x2="450.3" y2="289.20" stroke="#eeeeee" stroke-width="0.6"/>
<line x1="343.0" y1="299.30" x2="450.3" y2="299.30" stroke="#eeeeee" stroke-width="0.6"/>
<line x1="343.0" y1="309.40" x2="450.3" y2="309.40" stroke="#eeeeee" stroke-width="0.6"/>
<line x1="343.0" y1="319.50" x2="450.3" y2="319.50" stroke="#eeeeee" stroke-width="0.6"/>
<line x1="343.0" y1="329.60" x2="450.3" y2="329.60" stroke="#eeeeee" stroke-width="0.6"/>
<line x1="343.0" y1="339.70" x2="450.3" y2="339.70" stroke="#eeeeee" stroke-width="0.6"/>
<line x1="343.0" y1="349.80" x2="450.3" y2="349.80" stroke="#eeeeee" stroke-width="0.6"/>
<line x1="343.0" y1="359.90" x2="450.3" y2="359.90" stroke="#eeeeee" stroke-width="0.6"/>
<line x1="343.0" y1="370.00" x2="450.3" y2="370.00" stroke="#eeeeee" stroke-width="0.6"/>
<line x1="343.0" y1="380.10" x2="450.3" y2="380.10" stroke="#eeeeee" stroke-width="0.6"/>
<line x1="343.0" y1="390.20" x2="450.3" y2="390.20" stroke="#eeeeee" stroke-width="0.6"/>
<line x1="343.0" y1="400.30" x2="450.3" y2="400.30" stroke="#eeeeee" stroke-width="0.6"/>
<line x1="343.0" y1="410.40" x2="450.3" y2="410.40" stroke="#eeeeee" stroke-width="0.6"/>
<line x1="343.0" y1="420.50" x2="450.3" y2="420.50" stroke="#eeeeee" stroke-width="0.6"/>
<line x1="343.0" y1="430.60" x2="450.3" y2="430.60" stroke="#eeeeee" stroke-width="0.6"/>
<line x1="343.0" y1="440.70" x2="450.3" y2="440.70" stroke="#eeeeee" stroke-width="0.6"/>
<line x1="358.16" y1="243.5" x2="358.16" y2="446.0" stroke="#eeeeee" stroke-width="0.6"/>
<line x1="373.51" y1="243.5" x2="373.51" y2="446.0" stroke="#eeeeee" stroke-width="0.6"/>
<line x1="388.87" y1="243.5" x2="388.87" y2="446.0" stroke="#eeeeee" stroke-width="0.6"/>
<line x1="404.23" y1="243.5" x2="404.23" y2="446.0" stroke="#eeeeee" stroke-width="0.6"/>
<line x1="419.59" y1="243.5" x2="419.59" y2="446.0" stroke="#eeeeee" stroke-width="0.6"/>
<line x1="434.94" y1="243.5" x2="434.94" y2="446.0" stroke="#eeeeee" stroke-width="0.6"/>
<line x1="450.30" y1="243.5" x2="450.30" y2="446.0" stroke="#eeeeee" stroke-width="0.6"/>
<rect x="343.0" y="243.5" width="107.30000000000001" height="202.5" fill="none" stroke="#8c8c8c" stroke-width="0.9"/>
<line x1="341.00" y1="248.80" x2="343.0" y2="248.80" stroke="#555" stroke-width="0.6"/>
<line x1="341.00" y1="258.90" x2="343.0" y2="258.90" stroke="#555" stroke-width="0.6"/>
<line x1="341.00" y1="269.00" x2="343.0" y2="269.00" stroke="#555" stroke-width="0.6"/>
<line x1="341.00" y1="279.10" x2="343.0" y2="279.10" stroke="#555" stroke-width="0.6"/>
<line x1="341.00" y1="289.20" x2="343.0" y2="289.20" stroke="#555" stroke-width="0.6"/>
<line x1="341.00" y1="299.30" x2="343.0" y2="299.30" stroke="#555" stroke-width="0.6"/>
<line x1="341.00" y1="309.40" x2="343.0" y2="309.40" stroke="#555" stroke-width="0.6"/>
<line x1="341.00" y1="319.50" x2="343.0" y2="319.50" stroke="#555" stroke-width="0.6"/>
<line x1="341.00" y1="329.60" x2="343.0" y2="329.60" stroke="#555" stroke-width="0.6"/>
<line x1="341.00" y1="339.70" x2="343.0" y2="339.70" stroke="#555" stroke-width="0.6"/>
<line x1="341.00" y1="349.80" x2="343.0" y2="349.80" stroke="#555" stroke-width="0.6"/>
<line x1="341.00" y1="359.90" x2="343.0" y2="359.90" stroke="#555" stroke-width="0.6"/>
<line x1="341.00" y1="370.00" x2="343.0" y2="370.00" stroke="#555" stroke-width="0.6"/>
<line x1="341.00" y1="380.10" x2="343.0" y2="380.10" stroke="#555" stroke-width="0.6"/>
<line x1="341.00" y1="390.20" x2="343.0" y2="390.20" stroke="#555" stroke-width="0.6"/>
<line x1="341.00" y1="400.30" x2="343.0" y2="400.30" stroke="#555" stroke-width="0.6"/>
<line x1="341.00" y1="410.40" x2="343.0" y2="410.40" stroke="#555" stroke-width="0.6"/>
<line x1="341.00" y1="420.50" x2="343.0" y2="420.50" stroke="#555" stroke-width="0.6"/>
<line x1="341.00" y1="430.60" x2="343.0" y2="430.60" stroke="#555" stroke-width="0.6"/>
<line x1="341.00" y1="440.70" x2="343.0" y2="440.70" stroke="#555" stroke-width="0.6"/>
<line x1="342.80" y1="446.0" x2="342.80" y2="447.6" stroke="#555" stroke-width="0.6"/>
<line x1="350.48" y1="446.0" x2="350.48" y2="447.6" stroke="#555" stroke-width="0.6"/>
<line x1="358.16" y1="446.0" x2="358.16" y2="447.6" stroke="#555" stroke-width="0.6"/>
<line x1="365.84" y1="446.0" x2="365.84" y2="447.6" stroke="#555" stroke-width="0.6"/>
<line x1="373.51" y1="446.0" x2="373.51" y2="447.6" stroke="#555" stroke-width="0.6"/>
<line x1="381.19" y1="446.0" x2="381.19" y2="447.6" stroke="#555" stroke-width="0.6"/>
<line x1="388.87" y1="446.0" x2="388.87" y2="447.6" stroke="#555" stroke-width="0.6"/>
<line x1="396.55" y1="446.0" x2="396.55" y2="447.6" stroke="#555" stroke-width="0.6"/>
<line x1="404.23" y1="446.0" x2="404.23" y2="447.6" stroke="#555" stroke-width="0.6"/>
<line x1="411.91" y1="446.0" x2="411.91" y2="447.6" stroke="#555" stroke-width="0.6"/>
<line x1="419.59" y1="446.0" x2="419.59" y2="447.6" stroke="#555" stroke-width="0.6"/>
<line x1="427.26" y1="446.0" x2="427.26" y2="447.6" stroke="#555" stroke-width="0.6"/>
<line x1="434.94" y1="446.0" x2="434.94" y2="447.6" stroke="#555" stroke-width="0.6"/>
<line x1="442.62" y1="446.0" x2="442.62" y2="447.6" stroke="#555" stroke-width="0.6"/>
<line x1="450.30" y1="446.0" x2="450.30" y2="447.6" stroke="#555" stroke-width="0.6"/>
<text x="340.75" y="250.92" font-size="5.92" font-weight="bold" text-anchor="end" fill="#111">Ribosome</text>
<text x="340.75" y="261.02" font-size="5.92" font-weight="bold" text-anchor="end" fill="#111">Photosynthesis</text>
<text x="340.75" y="271.12" font-size="5.92" font-weight="bold" text-anchor="end" fill="#111">Photosynthesis - antenna</text>
<text x="340.75" y="281.22" font-size="5.92" font-weight="bold" text-anchor="end" fill="#111">Carbon fixation</text>
<text x="340.75" y="291.32" font-size="5.92" font-weight="bold" text-anchor="end" fill="#111">Glyoxylate</text>
<text x="340.75" y="301.42" font-size="5.92" font-weight="bold" text-anchor="end" fill="#111">Porphyrin metabolism</text>
<text x="340.75" y="311.52" font-size="5.92" font-weight="bold" text-anchor="end" fill="#111">Pentose phosphate pathway</text>
<text x="340.75" y="321.62" font-size="5.92" font-weight="bold" text-anchor="end" fill="#111">Purine metabolism</text>
<text x="340.75" y="331.72" font-size="5.92" font-weight="bold" text-anchor="end" fill="#111">Carotenoid biosynthesis</text>
<text x="340.75" y="341.82" font-size="5.92" font-weight="bold" text-anchor="end" fill="#111">Starch and sucrose</text>
<text x="340.75" y="351.92" font-size="5.92" font-weight="bold" text-anchor="end" fill="#111">Lysine biosynthesis</text>
<text x="340.75" y="362.02" font-size="5.92" font-weight="bold" text-anchor="end" fill="#111">Lipoic acid metabolism</text>
<text x="340.75" y="372.12" font-size="5.92" font-weight="bold" text-anchor="end" fill="#111">Tropane, piperidine</text>
<text x="340.75" y="382.22" font-size="5.92" font-weight="bold" text-anchor="end" fill="#111">One carbon pool by folate</text>
<text x="340.75" y="392.32" font-size="5.92" font-weight="bold" text-anchor="end" fill="#111">Nitrogen metabolism</text>
<text x="340.75" y="402.42" font-size="5.92" font-weight="bold" text-anchor="end" fill="#111">Aminoacyl-tRNA biosynthesis</text>
<text x="340.75" y="412.52" font-size="5.92" font-weight="bold" text-anchor="end" fill="#111">C5-Branched dibasic acid</text>
<text x="340.75" y="422.62" font-size="5.92" font-weight="bold" text-anchor="end" fill="#111">Tyrosine metabolism</text>
<text x="340.75" y="432.72" font-size="5.92" font-weight="bold" text-anchor="end" fill="#111">Phenylalanine metabolism</text>
<text x="340.75" y="442.82" font-size="5.92" font-weight="bold" text-anchor="end" fill="#111">Cysteine and methionine</text>
<circle cx="374.50" cy="248.80" r="2.05" fill="#e81e32" stroke="#c5192a" stroke-width="0.5"/>
<circle cx="389.25" cy="258.90" r="1.38" fill="#e31c38" stroke="#8c1122" stroke-width="0.5"/>
<circle cx="436.00" cy="269.00" r="0.98" fill="#e31c38" stroke="#8c1122" stroke-width="0.5"/>
<circle cx="377.50" cy="279.10" r="1.38" fill="#e31c38" stroke="#8c1122" stroke-width="0.5"/>
<circle cx="372.00" cy="289.20" r="1.38" fill="#e31c38" stroke="#8c1122" stroke-width="0.5"/>
<circle cx="372.75" cy="299.30" r="1.12" fill="#e31c38" stroke="#8c1122" stroke-width="0.5"/>
<circle cx="368.25" cy="309.40" r="1.12" fill="#e31c38" stroke="#8c1122" stroke-width="0.5"/>
<circle cx="363.25" cy="319.50" r="1.12" fill="#e31c38" stroke="#8c1122" stroke-width="0.5"/>
<circle cx="369.25" cy="329.60" r="0.98" fill="#de1b3d" stroke="#891025" stroke-width="0.5"/>
<circle cx="358.50" cy="339.70" r="1.38" fill="#d91a42" stroke="#861028" stroke-width="0.5"/>
<circle cx="375.25" cy="349.80" r="0.72" fill="#8e1ca6" stroke="#581166" stroke-width="0.5"/>
<circle cx="367.25" cy="359.90" r="0.98" fill="#5e22c8" stroke="#3a157c" stroke-width="0.5"/>
<circle cx="367.25" cy="370.00" r="0.98" fill="#5e22c8" stroke="#3a157c" stroke-width="0.5"/>
<circle cx="372.00" cy="380.10" r="0.88" fill="#5e22c8" stroke="#3a157c" stroke-width="0.5"/>
<circle cx="363.25" cy="390.20" r="0.88" fill="#4b23c0" stroke="#2e1577" stroke-width="0.5"/>
<circle cx="359.75" cy="400.30" r="0.98" fill="#4723be" stroke="#2c1575" stroke-width="0.5"/>
<circle cx="393.75" cy="410.40" r="0.72" fill="#4b23c0" stroke="#2e1577" stroke-width="0.5"/>
<circle cx="360.75" cy="420.50" r="0.98" fill="#4723be" stroke="#2c1575" stroke-width="0.5"/>
<circle cx="362.00" cy="430.60" r="0.98" fill="#4723be" stroke="#2c1575" stroke-width="0.5"/>
<circle cx="357.75" cy="440.70" r="1.12" fill="#4224bc" stroke="#281674" stroke-width="0.5"/>
<g transform="translate(342.80,452.60) scale(0.87,1)"><text x="0" y="0" font-size="5.3" text-anchor="middle" font-weight="bold" fill="#111" style="stroke-width:0.05px">0</text></g>
<g transform="translate(350.48,452.60) scale(0.87,1)"><text x="0" y="0" font-size="5.3" text-anchor="middle" font-weight="bold" fill="#111" style="stroke-width:0.05px">0.05</text></g>
<g transform="translate(358.16,452.60) scale(0.87,1)"><text x="0" y="0" font-size="5.3" text-anchor="middle" font-weight="bold" fill="#111" style="stroke-width:0.05px">0.1</text></g>
<g transform="translate(365.84,452.60) scale(0.87,1)"><text x="0" y="0" font-size="5.3" text-anchor="middle" font-weight="bold" fill="#111" style="stroke-width:0.05px">0.15</text></g>
<g transform="translate(373.51,452.60) scale(0.87,1)"><text x="0" y="0" font-size="5.3" text-anchor="middle" font-weight="bold" fill="#111" style="stroke-width:0.05px">0.2</text></g>
<g transform="translate(381.19,452.60) scale(0.87,1)"><text x="0" y="0" font-size="5.3" text-anchor="middle" font-weight="bold" fill="#111" style="stroke-width:0.05px">0.25</text></g>
<g transform="translate(388.87,452.60) scale(0.87,1)"><text x="0" y="0" font-size="5.3" text-anchor="middle" font-weight="bold" fill="#111" style="stroke-width:0.05px">0.3</text></g>
<g transform="translate(396.55,452.60) scale(0.87,1)"><text x="0" y="0" font-size="5.3" text-anchor="middle" font-weight="bold" fill="#111" style="stroke-width:0.05px">0.35</text></g>
<g transform="translate(404.23,452.60) scale(0.87,1)"><text x="0" y="0" font-size="5.3" text-anchor="middle" font-weight="bold" fill="#111" style="stroke-width:0.05px">0.4</text></g>
<g transform="translate(411.91,452.60) scale(0.87,1)"><text x="0" y="0" font-size="5.3" text-anchor="middle" font-weight="bold" fill="#111" style="stroke-width:0.05px">0.45</text></g>
<g transform="translate(419.59,452.60) scale(0.87,1)"><text x="0" y="0" font-size="5.3" text-anchor="middle" font-weight="bold" fill="#111" style="stroke-width:0.05px">0.5</text></g>
<g transform="translate(427.26,452.60) scale(0.87,1)"><text x="0" y="0" font-size="5.3" text-anchor="middle" font-weight="bold" fill="#111" style="stroke-width:0.05px">0.55</text></g>
<g transform="translate(434.94,452.60) scale(0.87,1)"><text x="0" y="0" font-size="5.3" text-anchor="middle" font-weight="bold" fill="#111" style="stroke-width:0.05px">0.6</text></g>
<g transform="translate(442.62,452.60) scale(0.87,1)"><text x="0" y="0" font-size="5.3" text-anchor="middle" font-weight="bold" fill="#111" style="stroke-width:0.05px">0.65</text></g>
<g transform="translate(450.30,452.60) scale(0.87,1)"><text x="0" y="0" font-size="5.3" text-anchor="middle" font-weight="bold" fill="#111" style="stroke-width:0.05px">0.7</text></g>
<text x="311.40" y="240.30" font-size="5.85" font-weight="bold" text-anchor="start" textLength="100" lengthAdjust="spacingAndGlyphs" fill="#111">KEGG enrichment analysis(JG_24h)</text>
<text x="380.40" y="457.20" font-size="5.87" font-weight="bold" text-anchor="start" textLength="32.3" lengthAdjust="spacingAndGlyphs" fill="#111">Rich Factor</text>
<text transform="translate(248.80,345.25) rotate(-90)" font-size="6.2" font-weight="bold" text-anchor="middle" textLength="44.9" lengthAdjust="spacingAndGlyphs" fill="#111">KEGG pathway</text>
<text x="454.50" y="289.70" font-size="5.87" font-weight="bold" text-anchor="start" fill="#111">Padjust</text>
<defs><linearGradient id="gD" x1="0" y1="0" x2="0" y2="1"><stop offset="0" stop-color="#3c12ee"/><stop offset="0.5" stop-color="#8a0a90"/><stop offset="1" stop-color="#f50f22"/></linearGradient></defs>
<rect x="455.4" y="292.5" width="4.70" height="26.20" fill="url(#gD)"/>
<text x="461.90" y="298.48" font-size="5.8" font-weight="bold" text-anchor="start" style="stroke-width:0.05px" fill="#111">0.200</text>
<text x="461.90" y="304.08" font-size="5.8" font-weight="bold" text-anchor="start" style="stroke-width:0.05px" fill="#111">0.150</text>
<text x="461.90" y="309.78" font-size="5.8" font-weight="bold" text-anchor="start" style="stroke-width:0.05px" fill="#111">0.100</text>
<text x="461.90" y="315.38" font-size="5.8" font-weight="bold" text-anchor="start" style="stroke-width:0.05px" fill="#111">0.0500</text>
<text x="461.90" y="320.58" font-size="5.8" font-weight="bold" text-anchor="start" style="stroke-width:0.05px" fill="#111">0.00</text>
<text x="454.30" y="349.40" font-size="5.87" font-weight="bold" text-anchor="start" fill="#111">Number</text>
<circle cx="455.4" cy="353.1" r="0.88" fill="#000"/>
<text x="459.70" y="355.18" font-size="5.8" font-weight="bold" text-anchor="start" style="stroke-width:0.05px" fill="#111">2</text>
<circle cx="455.4" cy="361.8" r="1.77" fill="#000"/>
<text x="459.70" y="363.88" font-size="5.8" font-weight="bold" text-anchor="start" style="stroke-width:0.05px" fill="#111">25</text>
<circle cx="455.4" cy="370.3" r="2.17" fill="#000"/>
<text x="459.70" y="372.38" font-size="5.8" font-weight="bold" text-anchor="start" style="stroke-width:0.05px" fill="#111">48</text>
<circle cx="455.4" cy="378.6" r="2.45" fill="#000"/>
<text x="459.70" y="380.68" font-size="5.8" font-weight="bold" text-anchor="start" style="stroke-width:0.05px" fill="#111">71</text>
<rect x="108.2" y="467.9" width="108.49999999999999" height="213.70000000000005" fill="#fff"/>
<line x1="108.2" y1="473.20" x2="216.7" y2="473.20" stroke="#eeeeee" stroke-width="0.6"/>
<line x1="108.2" y1="483.88" x2="216.7" y2="483.88" stroke="#eeeeee" stroke-width="0.6"/>
<line x1="108.2" y1="494.56" x2="216.7" y2="494.56" stroke="#eeeeee" stroke-width="0.6"/>
<line x1="108.2" y1="505.24" x2="216.7" y2="505.24" stroke="#eeeeee" stroke-width="0.6"/>
<line x1="108.2" y1="515.92" x2="216.7" y2="515.92" stroke="#eeeeee" stroke-width="0.6"/>
<line x1="108.2" y1="526.60" x2="216.7" y2="526.60" stroke="#eeeeee" stroke-width="0.6"/>
<line x1="108.2" y1="537.28" x2="216.7" y2="537.28" stroke="#eeeeee" stroke-width="0.6"/>
<line x1="108.2" y1="547.96" x2="216.7" y2="547.96" stroke="#eeeeee" stroke-width="0.6"/>
<line x1="108.2" y1="558.64" x2="216.7" y2="558.64" stroke="#eeeeee" stroke-width="0.6"/>
<line x1="108.2" y1="569.32" x2="216.7" y2="569.32" stroke="#eeeeee" stroke-width="0.6"/>
<line x1="108.2" y1="580.00" x2="216.7" y2="580.00" stroke="#eeeeee" stroke-width="0.6"/>
<line x1="108.2" y1="590.68" x2="216.7" y2="590.68" stroke="#eeeeee" stroke-width="0.6"/>
<line x1="108.2" y1="601.36" x2="216.7" y2="601.36" stroke="#eeeeee" stroke-width="0.6"/>
<line x1="108.2" y1="612.04" x2="216.7" y2="612.04" stroke="#eeeeee" stroke-width="0.6"/>
<line x1="108.2" y1="622.72" x2="216.7" y2="622.72" stroke="#eeeeee" stroke-width="0.6"/>
<line x1="108.2" y1="633.40" x2="216.7" y2="633.40" stroke="#eeeeee" stroke-width="0.6"/>
<line x1="108.2" y1="644.08" x2="216.7" y2="644.08" stroke="#eeeeee" stroke-width="0.6"/>
<line x1="108.2" y1="654.76" x2="216.7" y2="654.76" stroke="#eeeeee" stroke-width="0.6"/>
<line x1="108.2" y1="665.44" x2="216.7" y2="665.44" stroke="#eeeeee" stroke-width="0.6"/>
<line x1="108.2" y1="676.12" x2="216.7" y2="676.12" stroke="#eeeeee" stroke-width="0.6"/>
<line x1="108.20" y1="467.9" x2="108.20" y2="681.6" stroke="#eeeeee" stroke-width="0.6"/>
<line x1="123.70" y1="467.9" x2="123.70" y2="681.6" stroke="#eeeeee" stroke-width="0.6"/>
<line x1="139.20" y1="467.9" x2="139.20" y2="681.6" stroke="#eeeeee" stroke-width="0.6"/>
<line x1="154.70" y1="467.9" x2="154.70" y2="681.6" stroke="#eeeeee" stroke-width="0.6"/>
<line x1="170.20" y1="467.9" x2="170.20" y2="681.6" stroke="#eeeeee" stroke-width="0.6"/>
<line x1="185.70" y1="467.9" x2="185.70" y2="681.6" stroke="#eeeeee" stroke-width="0.6"/>
<line x1="201.20" y1="467.9" x2="201.20" y2="681.6" stroke="#eeeeee" stroke-width="0.6"/>
<line x1="216.70" y1="467.9" x2="216.70" y2="681.6" stroke="#eeeeee" stroke-width="0.6"/>
<rect x="108.2" y="467.9" width="108.49999999999999" height="213.70000000000005" fill="none" stroke="#8c8c8c" stroke-width="0.9"/>
<line x1="106.20" y1="473.20" x2="108.2" y2="473.20" stroke="#555" stroke-width="0.6"/>
<line x1="106.20" y1="483.88" x2="108.2" y2="483.88" stroke="#555" stroke-width="0.6"/>
<line x1="106.20" y1="494.56" x2="108.2" y2="494.56" stroke="#555" stroke-width="0.6"/>
<line x1="106.20" y1="505.24" x2="108.2" y2="505.24" stroke="#555" stroke-width="0.6"/>
<line x1="106.20" y1="515.92" x2="108.2" y2="515.92" stroke="#555" stroke-width="0.6"/>
<line x1="106.20" y1="526.60" x2="108.2" y2="526.60" stroke="#555" stroke-width="0.6"/>
<line x1="106.20" y1="537.28" x2="108.2" y2="537.28" stroke="#555" stroke-width="0.6"/>
<line x1="106.20" y1="547.96" x2="108.2" y2="547.96" stroke="#555" stroke-width="0.6"/>
<line x1="106.20" y1="558.64" x2="108.2" y2="558.64" stroke="#555" stroke-width="0.6"/>
<line x1="106.20" y1="569.32" x2="108.2" y2="569.32" stroke="#555" stroke-width="0.6"/>
<line x1="106.20" y1="580.00" x2="108.2" y2="580.00" stroke="#555" stroke-width="0.6"/>
<line x1="106.20" y1="590.68" x2="108.2" y2="590.68" stroke="#555" stroke-width="0.6"/>
<line x1="106.20" y1="601.36" x2="108.2" y2="601.36" stroke="#555" stroke-width="0.6"/>
<line x1="106.20" y1="612.04" x2="108.2" y2="612.04" stroke="#555" stroke-width="0.6"/>
<line x1="106.20" y1="622.72" x2="108.2" y2="622.72" stroke="#555" stroke-width="0.6"/>
<line x1="106.20" y1="633.40" x2="108.2" y2="633.40" stroke="#555" stroke-width="0.6"/>
<line x1="106.20" y1="644.08" x2="108.2" y2="644.08" stroke="#555" stroke-width="0.6"/>
<line x1="106.20" y1="654.76" x2="108.2" y2="654.76" stroke="#555" stroke-width="0.6"/>
<line x1="106.20" y1="665.44" x2="108.2" y2="665.44" stroke="#555" stroke-width="0.6"/>
<line x1="106.20" y1="676.12" x2="108.2" y2="676.12" stroke="#555" stroke-width="0.6"/>
<line x1="108.20" y1="681.6" x2="108.20" y2="683.2" stroke="#555" stroke-width="0.6"/>
<line x1="123.70" y1="681.6" x2="123.70" y2="683.2" stroke="#555" stroke-width="0.6"/>
<line x1="139.20" y1="681.6" x2="139.20" y2="683.2" stroke="#555" stroke-width="0.6"/>
<line x1="154.70" y1="681.6" x2="154.70" y2="683.2" stroke="#555" stroke-width="0.6"/>
<line x1="170.20" y1="681.6" x2="170.20" y2="683.2" stroke="#555" stroke-width="0.6"/>
<line x1="185.70" y1="681.6" x2="185.70" y2="683.2" stroke="#555" stroke-width="0.6"/>
<line x1="201.20" y1="681.6" x2="201.20" y2="683.2" stroke="#555" stroke-width="0.6"/>
<line x1="216.70" y1="681.6" x2="216.70" y2="683.2" stroke="#555" stroke-width="0.6"/>
<text x="105.30" y="475.72" font-size="7.05" font-weight="bold" text-anchor="end" fill="#111">Carbon fixation</text>
<text x="105.30" y="486.40" font-size="7.05" font-weight="bold" text-anchor="end" fill="#111">Cysteine and methionine</text>
<text x="105.30" y="497.08" font-size="7.05" font-weight="bold" text-anchor="end" fill="#111">Glycine, serine</text>
<text x="105.30" y="507.76" font-size="7.05" font-weight="bold" text-anchor="end" fill="#111">Tropane, piperidine</text>
<text x="105.30" y="518.44" font-size="7.05" font-weight="bold" text-anchor="end" fill="#111">Glyoxylate</text>
<text x="105.30" y="529.12" font-size="7.05" font-weight="bold" text-anchor="end" fill="#111">Selenocompound</text>
<text x="105.30" y="539.80" font-size="7.05" font-weight="bold" text-anchor="end" fill="#111">One carbon pool by folate</text>
<text x="105.30" y="550.48" font-size="7.05" font-weight="bold" text-anchor="end" fill="#111">Glutathione metabolism</text>
<text x="105.30" y="561.16" font-size="7.05" font-weight="bold" text-anchor="end" fill="#111">Phenylalanine, tyrosine</text>
<text x="105.30" y="571.84" font-size="7.05" font-weight="bold" text-anchor="end" fill="#111">Citrate cycle (TCA cycle)</text>
<text x="105.30" y="582.52" font-size="7.05" font-weight="bold" text-anchor="end" fill="#111">Flavonoid biosynthesis</text>
<text x="105.30" y="593.20" font-size="7.05" font-weight="bold" text-anchor="end" fill="#111">Benzoxazinoid</text>
<text x="105.30" y="603.88" font-size="7.05" font-weight="bold" text-anchor="end" fill="#111">Pyruvate metabolism</text>
<text x="105.30" y="614.56" font-size="7.05" font-weight="bold" text-anchor="end" fill="#111">ABC transporters</text>
<text x="105.30" y="625.24" font-size="7.05" font-weight="bold" text-anchor="end" fill="#111">Glycolysis</text>
<text x="105.30" y="635.92" font-size="7.05" font-weight="bold" text-anchor="end" fill="#111">Isoquinoline alkaloid</text>
<text x="105.30" y="646.60" font-size="7.05" font-weight="bold" text-anchor="end" fill="#111">Fructose and mannose</text>
<text x="105.30" y="657.28" font-size="7.05" font-weight="bold" text-anchor="end" fill="#111">Phenylalanine metabolism</text>
<text x="105.30" y="667.96" font-size="7.05" font-weight="bold" text-anchor="end" fill="#111">Tyrosine metabolism</text>
<text x="105.30" y="678.64" font-size="7.05" font-weight="bold" text-anchor="end" fill="#111">Fatty acid biosynthesis</text>
<circle cx="158.75" cy="473.20" r="2.30" fill="#e61d34" stroke="#c3182c" stroke-width="0.5"/>
<circle cx="145.00" cy="483.88" r="2.70" fill="#e61d34" stroke="#c3182c" stroke-width="0.5"/>
<circle cx="153.25" cy="494.56" r="2.25" fill="#e61d34" stroke="#c3182c" stroke-width="0.5"/>
<circle cx="182.25" cy="505.24" r="1.38" fill="#e31c38" stroke="#aa152a" stroke-width="0.5"/>
<circle cx="147.75" cy="515.92" r="1.95" fill="#e31c38" stroke="#c0172f" stroke-width="0.5"/>
<circle cx="201.00" cy="526.60" r="0.98" fill="#e31c38" stroke="#8c1122" stroke-width="0.5"/>
<circle cx="195.75" cy="537.28" r="0.98" fill="#e31c38" stroke="#8c1122" stroke-width="0.5"/>
<circle cx="132.50" cy="547.96" r="2.50" fill="#e31c38" stroke="#c0172f" stroke-width="0.5"/>
<circle cx="149.75" cy="558.64" r="1.68" fill="#e31c38" stroke="#aa152a" stroke-width="0.5"/>
<circle cx="147.75" cy="569.32" r="1.62" fill="#e11c3a" stroke="#a8152b" stroke-width="0.5"/>
<circle cx="151.00" cy="580.00" r="1.48" fill="#de1b3d" stroke="#a6142d" stroke-width="0.5"/>
<circle cx="183.75" cy="590.68" r="0.72" fill="#d91a42" stroke="#861028" stroke-width="0.5"/>
<circle cx="128.25" cy="601.36" r="2.05" fill="#c31960" stroke="#a51551" stroke-width="0.5"/>
<circle cx="131.75" cy="612.04" r="1.90" fill="#bb1a6c" stroke="#9e165b" stroke-width="0.5"/>
<circle cx="124.00" cy="622.72" r="2.60" fill="#b21a78" stroke="#971666" stroke-width="0.5"/>
<circle cx="145.50" cy="633.40" r="1.08" fill="#a91a84" stroke="#681051" stroke-width="0.5"/>
<circle cx="133.00" cy="644.08" r="1.38" fill="#821eae" stroke="#611682" stroke-width="0.5"/>
<circle cx="136.00" cy="654.76" r="1.38" fill="#761fb7" stroke="#491371" stroke-width="0.5"/>
<circle cx="132.50" cy="665.44" r="1.38" fill="#5e22c8" stroke="#461996" stroke-width="0.5"/>
<circle cx="132.50" cy="676.12" r="1.38" fill="#5422c4" stroke="#3f1993" stroke-width="0.5"/>
<text x="108.20" y="688.00" font-size="5.9" font-weight="bold" text-anchor="middle" style="stroke-width:0.05px" fill="#111">0.05</text>
<text x="123.70" y="688.00" font-size="5.9" font-weight="bold" text-anchor="middle" style="stroke-width:0.05px" fill="#111">0.1</text>
<text x="139.20" y="688.00" font-size="5.9" font-weight="bold" text-anchor="middle" style="stroke-width:0.05px" fill="#111">0.15</text>
<text x="154.70" y="688.00" font-size="5.9" font-weight="bold" text-anchor="middle" style="stroke-width:0.05px" fill="#111">0.2</text>
<text x="170.20" y="688.00" font-size="5.9" font-weight="bold" text-anchor="middle" style="stroke-width:0.05px" fill="#111">0.25</text>
<text x="185.70" y="688.00" font-size="5.9" font-weight="bold" text-anchor="middle" style="stroke-width:0.05px" fill="#111">0.3</text>
<text x="201.20" y="688.00" font-size="5.9" font-weight="bold" text-anchor="middle" style="stroke-width:0.05px" fill="#111">0.35</text>
<text x="216.70" y="688.00" font-size="5.9" font-weight="bold" text-anchor="middle" style="stroke-width:0.05px" fill="#111">0.4</text>
<text x="67.30" y="463.30" font-size="7.05" font-weight="bold" text-anchor="start" textLength="121" lengthAdjust="spacingAndGlyphs" fill="#111">KEGG enrichment analysis(JG_48h)</text>
<text x="143.10" y="693.50" font-size="7.05" font-weight="bold" text-anchor="start" textLength="38.8" lengthAdjust="spacingAndGlyphs" fill="#111">Rich Factor</text>
<text transform="translate(6.50,574.30) rotate(-90)" font-size="6.4" font-weight="bold" text-anchor="middle" textLength="47.4" lengthAdjust="spacingAndGlyphs" fill="#111">KEGG pathway</text>
<text x="221.90" y="517.14" font-size="7.1" font-weight="bold" text-anchor="start" fill="#111">Padjust</text>
<defs><linearGradient id="gE" x1="0" y1="0" x2="0" y2="1"><stop offset="0" stop-color="#3c12ee"/><stop offset="0.5" stop-color="#8a0a90"/><stop offset="1" stop-color="#f50f22"/></linearGradient></defs>
<rect x="223.1" y="519.1" width="5.90" height="27.60" fill="url(#gE)"/>
<text x="231.30" y="524.67" font-size="6.9" font-weight="bold" text-anchor="start" style="stroke-width:0.05px" fill="#111">0.0800</text>
<text x="231.30" y="530.77" font-size="6.9" font-weight="bold" text-anchor="start" style="stroke-width:0.05px" fill="#111">0.0600</text>
<text x="231.30" y="537.17" font-size="6.9" font-weight="bold" text-anchor="start" style="stroke-width:0.05px" fill="#111">0.0400</text>
<text x="231.30" y="543.37" font-size="6.9" font-weight="bold" text-anchor="start" style="stroke-width:0.05px" fill="#111">0.0200</text>
<text x="231.30" y="549.67" font-size="6.9" font-weight="bold" text-anchor="start" style="stroke-width:0.05px" fill="#111">0.00</text>
<text x="221.90" y="579.94" font-size="7.1" font-weight="bold" text-anchor="start" fill="#111">Number</text>
<circle cx="223.1" cy="583.9" r="1.07" fill="#000"/>
<text x="229.10" y="586.37" font-size="6.9" font-weight="bold" text-anchor="start" style="stroke-width:0.05px" fill="#111">5</text>
<circle cx="223.1" cy="592.7" r="1.73" fill="#000"/>
<text x="229.10" y="595.17" font-size="6.9" font-weight="bold" text-anchor="start" style="stroke-width:0.05px" fill="#111">11</text>
<circle cx="223.1" cy="601.4" r="2.25" fill="#000"/>
<text x="229.10" y="603.87" font-size="6.9" font-weight="bold" text-anchor="start" style="stroke-width:0.05px" fill="#111">17</text>
<circle cx="223.1" cy="610.4" r="2.75" fill="#000"/>
<text x="229.10" y="612.87" font-size="6.9" font-weight="bold" text-anchor="start" style="stroke-width:0.05px" fill="#111">23</text>
<rect x="347.5" y="470.8" width="106.10000000000002" height="211.99999999999994" fill="#fff"/>
<line x1="347.5" y1="476.00" x2="453.6" y2="476.00" stroke="#eeeeee" stroke-width="0.6"/>
<line x1="347.5" y1="486.60" x2="453.6" y2="486.60" stroke="#eeeeee" stroke-width="0.6"/>
<line x1="347.5" y1="497.20" x2="453.6" y2="497.20" stroke="#eeeeee" stroke-width="0.6"/>
<line x1="347.5" y1="507.80" x2="453.6" y2="507.80" stroke="#eeeeee" stroke-width="0.6"/>
<line x1="347.5" y1="518.40" x2="453.6" y2="518.40" stroke="#eeeeee" stroke-width="0.6"/>
<line x1="347.5" y1="529.00" x2="453.6" y2="529.00" stroke="#eeeeee" stroke-width="0.6"/>
<line x1="347.5" y1="539.60" x2="453.6" y2="539.60" stroke="#eeeeee" stroke-width="0.6"/>
<line x1="347.5" y1="550.20" x2="453.6" y2="550.20" stroke="#eeeeee" stroke-width="0.6"/>
<line x1="347.5" y1="560.80" x2="453.6" y2="560.80" stroke="#eeeeee" stroke-width="0.6"/>
<line x1="347.5" y1="571.40" x2="453.6" y2="571.40" stroke="#eeeeee" stroke-width="0.6"/>
<line x1="347.5" y1="582.00" x2="453.6" y2="582.00" stroke="#eeeeee" stroke-width="0.6"/>
<line x1="347.5" y1="592.60" x2="453.6" y2="592.60" stroke="#eeeeee" stroke-width="0.6"/>
<line x1="347.5" y1="603.20" x2="453.6" y2="603.20" stroke="#eeeeee" stroke-width="0.6"/>
<line x1="347.5" y1="613.80" x2="453.6" y2="613.80" stroke="#eeeeee" stroke-width="0.6"/>
<line x1="347.5" y1="624.40" x2="453.6" y2="624.40" stroke="#eeeeee" stroke-width="0.6"/>
<line x1="347.5" y1="635.00" x2="453.6" y2="635.00" stroke="#eeeeee" stroke-width="0.6"/>
<line x1="347.5" y1="645.60" x2="453.6" y2="645.60" stroke="#eeeeee" stroke-width="0.6"/>
<line x1="347.5" y1="656.20" x2="453.6" y2="656.20" stroke="#eeeeee" stroke-width="0.6"/>
<line x1="347.5" y1="666.80" x2="453.6" y2="666.80" stroke="#eeeeee" stroke-width="0.6"/>
<line x1="347.5" y1="677.40" x2="453.6" y2="677.40" stroke="#eeeeee" stroke-width="0.6"/>
<line x1="366.79" y1="470.8" x2="366.79" y2="682.8" stroke="#eeeeee" stroke-width="0.6"/>
<line x1="386.08" y1="470.8" x2="386.08" y2="682.8" stroke="#eeeeee" stroke-width="0.6"/>
<line x1="405.37" y1="470.8" x2="405.37" y2="682.8" stroke="#eeeeee" stroke-width="0.6"/>
<line x1="424.66" y1="470.8" x2="424.66" y2="682.8" stroke="#eeeeee" stroke-width="0.6"/>
<line x1="443.95" y1="470.8" x2="443.95" y2="682.8" stroke="#eeeeee" stroke-width="0.6"/>
<rect x="347.5" y="470.8" width="106.10000000000002" height="211.99999999999994" fill="none" stroke="#8c8c8c" stroke-width="0.9"/>
<line x1="345.50" y1="476.00" x2="347.5" y2="476.00" stroke="#555" stroke-width="0.6"/>
<line x1="345.50" y1="486.60" x2="347.5" y2="486.60" stroke="#555" stroke-width="0.6"/>
<line x1="345.50" y1="497.20" x2="347.5" y2="497.20" stroke="#555" stroke-width="0.6"/>
<line x1="345.50" y1="507.80" x2="347.5" y2="507.80" stroke="#555" stroke-width="0.6"/>
<line x1="345.50" y1="518.40" x2="347.5" y2="518.40" stroke="#555" stroke-width="0.6"/>
<line x1="345.50" y1="529.00" x2="347.5" y2="529.00" stroke="#555" stroke-width="0.6"/>
<line x1="345.50" y1="539.60" x2="347.5" y2="539.60" stroke="#555" stroke-width="0.6"/>
<line x1="345.50" y1="550.20" x2="347.5" y2="550.20" stroke="#555" stroke-width="0.6"/>
<line x1="345.50" y1="560.80" x2="347.5" y2="560.80" stroke="#555" stroke-width="0.6"/>
<line x1="345.50" y1="571.40" x2="347.5" y2="571.40" stroke="#555" stroke-width="0.6"/>
<line x1="345.50" y1="582.00" x2="347.5" y2="582.00" stroke="#555" stroke-width="0.6"/>
<line x1="345.50" y1="592.60" x2="347.5" y2="592.60" stroke="#555" stroke-width="0.6"/>
<line x1="345.50" y1="603.20" x2="347.5" y2="603.20" stroke="#555" stroke-width="0.6"/>
<line x1="345.50" y1="613.80" x2="347.5" y2="613.80" stroke="#555" stroke-width="0.6"/>
<line x1="345.50" y1="624.40" x2="347.5" y2="624.40" stroke="#555" stroke-width="0.6"/>
<line x1="345.50" y1="635.00" x2="347.5" y2="635.00" stroke="#555" stroke-width="0.6"/>
<line x1="345.50" y1="645.60" x2="347.5" y2="645.60" stroke="#555" stroke-width="0.6"/>
<line x1="345.50" y1="656.20" x2="347.5" y2="656.20" stroke="#555" stroke-width="0.6"/>
<line x1="345.50" y1="666.80" x2="347.5" y2="666.80" stroke="#555" stroke-width="0.6"/>
<line x1="345.50" y1="677.40" x2="347.5" y2="677.40" stroke="#555" stroke-width="0.6"/>
<line x1="347.50" y1="682.8" x2="347.50" y2="684.4" stroke="#555" stroke-width="0.6"/>
<line x1="357.15" y1="682.8" x2="357.15" y2="684.4" stroke="#555" stroke-width="0.6"/>
<line x1="366.79" y1="682.8" x2="366.79" y2="684.4" stroke="#555" stroke-width="0.6"/>
<line x1="376.44" y1="682.8" x2="376.44" y2="684.4" stroke="#555" stroke-width="0.6"/>
<line x1="386.08" y1="682.8" x2="386.08" y2="684.4" stroke="#555" stroke-width="0.6"/>
<line x1="395.73" y1="682.8" x2="395.73" y2="684.4" stroke="#555" stroke-width="0.6"/>
<line x1="405.37" y1="682.8" x2="405.37" y2="684.4" stroke="#555" stroke-width="0.6"/>
<line x1="415.02" y1="682.8" x2="415.02" y2="684.4" stroke="#555" stroke-width="0.6"/>
<line x1="424.66" y1="682.8" x2="424.66" y2="684.4" stroke="#555" stroke-width="0.6"/>
<line x1="434.31" y1="682.8" x2="434.31" y2="684.4" stroke="#555" stroke-width="0.6"/>
<line x1="443.95" y1="682.8" x2="443.95" y2="684.4" stroke="#555" stroke-width="0.6"/>
<line x1="453.60" y1="682.8" x2="453.60" y2="684.4" stroke="#555" stroke-width="0.6"/>
<g transform="translate(345.00,478.18) scale(0.94,1)"><text x="0" y="0" font-size="6.1" font-weight="bold" text-anchor="end" fill="#111">Valine, leucine</text></g>
<g transform="translate(345.00,488.78) scale(0.94,1)"><text x="0" y="0" font-size="6.1" font-weight="bold" text-anchor="end" fill="#111">Valine, leucine</text></g>
<g transform="translate(345.00,499.38) scale(0.94,1)"><text x="0" y="0" font-size="6.1" font-weight="bold" text-anchor="end" fill="#111">Starch and sucrose</text></g>
<g transform="translate(345.00,509.98) scale(0.94,1)"><text x="0" y="0" font-size="6.1" font-weight="bold" text-anchor="end" fill="#111">Propanoate metabolism</text></g>
<g transform="translate(345.00,520.58) scale(0.94,1)"><text x="0" y="0" font-size="6.1" font-weight="bold" text-anchor="end" fill="#111">Alanine, aspartate</text></g>
<g transform="translate(345.00,531.18) scale(0.94,1)"><text x="0" y="0" font-size="6.1" font-weight="bold" text-anchor="end" fill="#111">Photosynthesis</text></g>
<g transform="translate(345.00,541.78) scale(0.94,1)"><text x="0" y="0" font-size="6.1" font-weight="bold" text-anchor="end" fill="#111">Lipoic acid metabolism</text></g>
<g transform="translate(345.00,552.38) scale(0.94,1)"><text x="0" y="0" font-size="6.1" font-weight="bold" text-anchor="end" fill="#111">Pantothenate and CoA</text></g>
<g transform="translate(345.00,562.98) scale(0.94,1)"><text x="0" y="0" font-size="6.1" font-weight="bold" text-anchor="end" fill="#111">Fatty acid degradation</text></g>
<g transform="translate(345.00,573.58) scale(0.94,1)"><text x="0" y="0" font-size="6.1" font-weight="bold" text-anchor="end" fill="#111">Butanoate metabolism</text></g>
<g transform="translate(345.00,584.18) scale(0.94,1)"><text x="0" y="0" font-size="6.1" font-weight="bold" text-anchor="end" fill="#111">Glycerophospholipid</text></g>
<g transform="translate(345.00,594.78) scale(0.94,1)"><text x="0" y="0" font-size="6.1" font-weight="bold" text-anchor="end" fill="#111">Amino sugar</text></g>
<g transform="translate(345.00,605.38) scale(0.94,1)"><text x="0" y="0" font-size="6.1" font-weight="bold" text-anchor="end" fill="#111">Inositol phosphate</text></g>
<g transform="translate(345.00,615.98) scale(0.94,1)"><text x="0" y="0" font-size="6.1" font-weight="bold" text-anchor="end" fill="#111">Circadian rhythm - plant</text></g>
<g transform="translate(345.00,626.58) scale(0.94,1)"><text x="0" y="0" font-size="6.1" font-weight="bold" text-anchor="end" fill="#111">Tryptophan metabolism</text></g>
<g transform="translate(345.00,637.18) scale(0.94,1)"><text x="0" y="0" font-size="6.1" font-weight="bold" text-anchor="end" fill="#111">Glycine, serine</text></g>
<g transform="translate(345.00,647.78) scale(0.94,1)"><text x="0" y="0" font-size="6.1" font-weight="bold" text-anchor="end" fill="#111">beta-Alanine metabolism</text></g>
<g transform="translate(345.00,658.38) scale(0.94,1)"><text x="0" y="0" font-size="6.1" font-weight="bold" text-anchor="end" fill="#111">Sulfur relay system</text></g>
<g transform="translate(345.00,668.98) scale(0.94,1)"><text x="0" y="0" font-size="6.1" font-weight="bold" text-anchor="end" fill="#111">Glucosinolate biosynthesis</text></g>
<g transform="translate(345.00,679.58) scale(0.94,1)"><text x="0" y="0" font-size="6.1" font-weight="bold" text-anchor="end" fill="#111">Other types of O-glycan</text></g>
<circle cx="435.75" cy="476.00" r="1.80" fill="#e61d34" stroke="#c3182c" stroke-width="0.5"/>
<circle cx="441.25" cy="486.60" r="1.08" fill="#e31c38" stroke="#8c1122" stroke-width="0.5"/>
<circle cx="366.75" cy="497.20" r="2.30" fill="#e31c38" stroke="#c0172f" stroke-width="0.5"/>
<circle cx="400.25" cy="507.80" r="1.38" fill="#de1b3d" stroke="#a6142d" stroke-width="0.5"/>
<circle cx="380.00" cy="518.40" r="1.38" fill="#de1b3d" stroke="#a6142d" stroke-width="0.5"/>
<circle cx="374.25" cy="529.00" r="1.38" fill="#dc1a3f" stroke="#a5132f" stroke-width="0.5"/>
<circle cx="391.25" cy="539.60" r="1.38" fill="#d91a42" stroke="#861028" stroke-width="0.5"/>
<circle cx="388.25" cy="550.20" r="1.23" fill="#d91a42" stroke="#861028" stroke-width="0.5"/>
<circle cx="373.25" cy="560.80" r="1.38" fill="#d91a42" stroke="#861028" stroke-width="0.5"/>
<circle cx="390.25" cy="571.40" r="1.12" fill="#d41848" stroke="#830e2c" stroke-width="0.5"/>
<circle cx="361.00" cy="582.00" r="1.77" fill="#b21a78" stroke="#85135a" stroke-width="0.5"/>
<circle cx="356.50" cy="592.60" r="2.05" fill="#a01b8f" stroke="#881679" stroke-width="0.5"/>
<circle cx="365.25" cy="603.20" r="1.38" fill="#a01b8f" stroke="#78146b" stroke-width="0.5"/>
<circle cx="369.50" cy="613.80" r="1.38" fill="#971c9b" stroke="#711574" stroke-width="0.5"/>
<circle cx="363.25" cy="624.40" r="1.38" fill="#8e1ca6" stroke="#6a157c" stroke-width="0.5"/>
<circle cx="359.50" cy="635.00" r="1.38" fill="#761fb7" stroke="#581789" stroke-width="0.5"/>
<circle cx="364.50" cy="645.60" r="1.38" fill="#761fb7" stroke="#491371" stroke-width="0.5"/>
<circle cx="388.25" cy="656.20" r="0.88" fill="#5e22c8" stroke="#3a157c" stroke-width="0.5"/>
<circle cx="388.50" cy="666.80" r="0.72" fill="#4b23c0" stroke="#2e1577" stroke-width="0.5"/>
<circle cx="371.75" cy="677.40" r="0.62" fill="#4b23c0" stroke="#2e1577" stroke-width="0.5"/>
<g transform="translate(347.50,689.30) scale(0.89,1)"><text x="0" y="0" font-size="5.6" text-anchor="middle" font-weight="bold" fill="#111" style="stroke-width:0.05px">0.04</text></g>
<g transform="translate(357.15,689.30) scale(0.89,1)"><text x="0" y="0" font-size="5.6" text-anchor="middle" font-weight="bold" fill="#111" style="stroke-width:0.05px">0.06</text></g>
<g transform="translate(366.79,689.30) scale(0.89,1)"><text x="0" y="0" font-size="5.6" text-anchor="middle" font-weight="bold" fill="#111" style="stroke-width:0.05px">0.08</text></g>
<g transform="translate(376.44,689.30) scale(0.89,1)"><text x="0" y="0" font-size="5.6" text-anchor="middle" font-weight="bold" fill="#111" style="stroke-width:0.05px">0.1</text></g>
<g transform="translate(386.08,689.30) scale(0.89,1)"><text x="0" y="0" font-size="5.6" text-anchor="middle" font-weight="bold" fill="#111" style="stroke-width:0.05px">0.12</text></g>
<g transform="translate(395.73,689.30) scale(0.89,1)"><text x="0" y="0" font-size="5.6" text-anchor="middle" font-weight="bold" fill="#111" style="stroke-width:0.05px">0.14</text></g>
<g transform="translate(405.37,689.30) scale(0.89,1)"><text x="0" y="0" font-size="5.6" text-anchor="middle" font-weight="bold" fill="#111" style="stroke-width:0.05px">0.16</text></g>
<g transform="translate(415.02,689.30) scale(0.89,1)"><text x="0" y="0" font-size="5.6" text-anchor="middle" font-weight="bold" fill="#111" style="stroke-width:0.05px">0.18</text></g>
<g transform="translate(424.66,689.30) scale(0.89,1)"><text x="0" y="0" font-size="5.6" text-anchor="middle" font-weight="bold" fill="#111" style="stroke-width:0.05px">0.2</text></g>
<g transform="translate(434.31,689.30) scale(0.89,1)"><text x="0" y="0" font-size="5.6" text-anchor="middle" font-weight="bold" fill="#111" style="stroke-width:0.05px">0.22</text></g>
<g transform="translate(443.95,689.30) scale(0.89,1)"><text x="0" y="0" font-size="5.6" text-anchor="middle" font-weight="bold" fill="#111" style="stroke-width:0.05px">0.24</text></g>
<g transform="translate(453.60,689.30) scale(0.89,1)"><text x="0" y="0" font-size="5.6" text-anchor="middle" font-weight="bold" fill="#111" style="stroke-width:0.05px">0.26</text></g>
<text x="320.00" y="466.80" font-size="6.1" text-anchor="start" textLength="98.2" lengthAdjust="spacingAndGlyphs" style="stroke-width:0.12px" fill="#111">KEGG enrichment analysis(JG_48h)</text>
<text x="385.00" y="694.50" font-size="6.06" text-anchor="start" textLength="31" lengthAdjust="spacingAndGlyphs" fill="#111">Rich Factor</text>
<text transform="translate(259.50,576.50) rotate(-90)" font-size="6.5" font-weight="bold" text-anchor="middle" textLength="47.2" lengthAdjust="spacingAndGlyphs" fill="#111">KEGG pathway</text>
<text x="458.00" y="518.90" font-size="5.6" font-weight="bold" text-anchor="start" fill="#111">Padjust</text>
<defs><linearGradient id="gF" x1="0" y1="0" x2="0" y2="1"><stop offset="0" stop-color="#3c12ee"/><stop offset="0.5" stop-color="#8a0a90"/><stop offset="1" stop-color="#f50f22"/></linearGradient></defs>
<rect x="458.8" y="522.1" width="4.50" height="27.20" fill="url(#gF)"/>
<text x="465.30" y="524.34" font-size="5.7" font-weight="bold" text-anchor="start" style="stroke-width:0.05px" fill="#111">0.800</text>
<text x="465.30" y="530.84" font-size="5.7" font-weight="bold" text-anchor="start" style="stroke-width:0.05px" fill="#111">0.600</text>
<text x="465.30" y="537.34" font-size="5.7" font-weight="bold" text-anchor="start" style="stroke-width:0.05px" fill="#111">0.400</text>
<text x="465.30" y="544.24" font-size="5.7" font-weight="bold" text-anchor="start" style="stroke-width:0.05px" fill="#111">0.200</text>
<text x="465.30" y="551.54" font-size="5.7" font-weight="bold" text-anchor="start" style="stroke-width:0.05px" fill="#111">0.00</text>
<text x="457.80" y="581.30" font-size="5.6" font-weight="bold" text-anchor="start" fill="#111">Number</text>
<circle cx="458.7" cy="585.6" r="0.88" fill="#000"/>
<text x="463.10" y="587.64" font-size="5.7" font-weight="bold" text-anchor="start" style="stroke-width:0.05px" fill="#111">1</text>
<circle cx="458.7" cy="594.4" r="1.77" fill="#000"/>
<text x="463.10" y="596.44" font-size="5.7" font-weight="bold" text-anchor="start" style="stroke-width:0.05px" fill="#111">6</text>
<circle cx="458.7" cy="603" r="2.08" fill="#000"/>
<text x="463.10" y="605.04" font-size="5.7" font-weight="bold" text-anchor="start" style="stroke-width:0.05px" fill="#111">11</text>
<circle cx="458.7" cy="612.1" r="2.40" fill="#000"/>
<text x="463.10" y="614.14" font-size="5.7" font-weight="bold" text-anchor="start" style="stroke-width:0.05px" fill="#111">16</text>
<text transform="translate(0.48,15.00) scale(0.977,1)" font-size="19.04" font-weight="bold" fill="#000">A</text>
<text transform="translate(227.50,15.00) scale(0.968,1)" font-size="19.26" font-weight="bold" fill="#000">B</text>
<text transform="translate(0.39,236.72) scale(0.868,1)" font-size="19.94" font-weight="bold" fill="#000">C</text>
<text transform="translate(237.45,237.50) scale(1.017,1)" font-size="19.04" font-weight="bold" fill="#000">D</text>
<text transform="translate(0.39,465.10) scale(0.924,1)" font-size="19.62" font-weight="bold" fill="#000">E</text>
<text transform="translate(243.01,471.90) scale(0.942,1)" font-size="19.62" font-weight="bold" fill="#000">F</text>
</svg></body></html>
